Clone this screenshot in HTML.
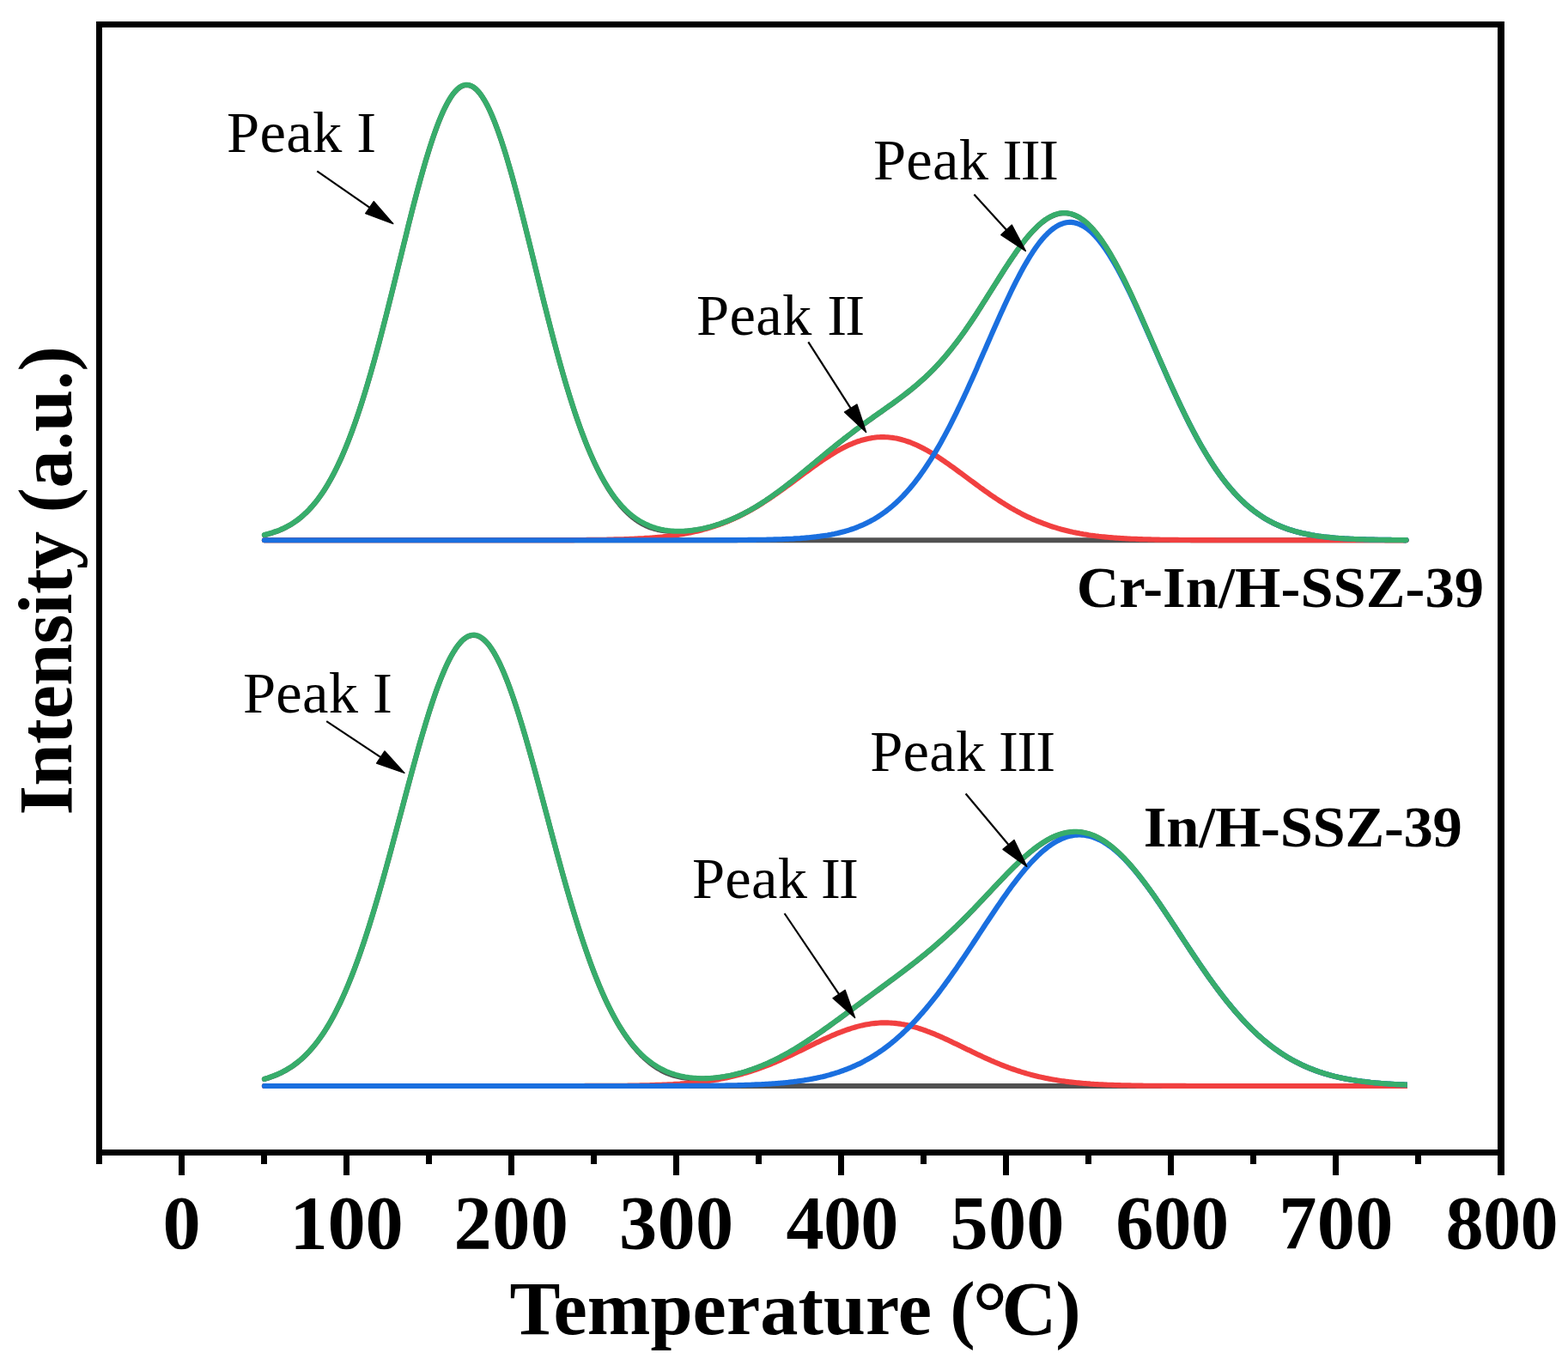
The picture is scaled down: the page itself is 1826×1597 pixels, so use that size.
<!DOCTYPE html>
<html lang="en"><head><meta charset="utf-8"><title>NH3-TPD profiles</title>
<style>
html,body{margin:0;padding:0;background:#fff;}
body{width:1826px;height:1597px;overflow:hidden;}
svg{display:block;}
text{font-family:"Liberation Serif","Times New Roman",serif;fill:#000;}
.crv{fill:none;stroke-width:6.1;stroke-linejoin:round;stroke-linecap:round;}
</style></head><body>
<svg width="1826" height="1597" viewBox="0 0 1826 1597">
<rect x="0" y="0" width="1826" height="1597" fill="#fff"/>

<defs><clipPath id="cb"><rect x="0" y="700" width="1638.8" height="620"/></clipPath></defs>
<g class="crv">
<path stroke="#515151" d="M307.9,629.2 L1637.5,629.2"/>
<path stroke="#515151" d="M307.9,623.2 L309.9,622.7 L311.9,622.2 L313.9,621.6 L315.9,621.0 L317.9,620.4 L319.9,619.7 L321.9,619.0 L323.9,618.3 L325.9,617.5 L327.9,616.6 L329.9,615.7 L331.9,614.7 L333.9,613.7 L335.9,612.6 L337.9,611.5 L339.9,610.3 L341.9,609.0 L343.9,607.6 L345.9,606.2 L347.9,604.7 L349.9,603.1 L351.9,601.4 L353.9,599.6 L355.9,597.8 L357.9,595.8 L359.9,593.8 L361.9,591.6 L363.9,589.4 L365.9,587.0 L367.9,584.6 L369.9,582.0 L371.9,579.3 L373.9,576.5 L375.9,573.6 L377.9,570.5 L379.9,567.3 L381.9,564.0 L383.9,560.5 L385.9,556.9 L387.9,553.2 L389.9,549.3 L391.9,545.3 L393.9,541.2 L395.9,536.9 L397.9,532.4 L399.9,527.8 L401.9,523.1 L403.9,518.2 L405.9,513.1 L407.9,507.9 L409.9,502.6 L411.9,497.0 L413.9,491.4 L415.9,485.6 L417.9,479.6 L419.9,473.5 L421.9,467.3 L423.9,460.9 L425.9,454.4 L427.9,447.7 L429.9,440.9 L431.9,434.0 L433.9,426.9 L435.9,419.8 L437.9,412.5 L439.9,405.1 L441.9,397.6 L443.9,390.0 L445.9,382.3 L447.9,374.5 L449.9,366.7 L451.9,358.8 L453.9,350.8 L455.9,342.8 L457.9,334.7 L459.9,326.6 L461.9,318.5 L463.9,310.3 L465.9,302.2 L467.9,294.1 L469.9,285.9 L471.9,277.9 L473.9,269.8 L475.8,261.8 L477.8,253.9 L479.8,246.0 L481.8,238.2 L483.8,230.6 L485.8,223.0 L487.8,215.6 L489.8,208.2 L491.8,201.1 L493.8,194.1 L495.8,187.2 L497.8,180.6 L499.8,174.1 L501.8,167.8 L503.8,161.8 L505.8,156.0 L507.8,150.4 L509.8,145.0 L511.8,139.9 L513.8,135.1 L515.8,130.5 L517.8,126.3 L519.8,122.3 L521.8,118.6 L523.8,115.2 L525.8,112.1 L527.8,109.3 L529.8,106.9 L531.8,104.8 L533.8,103.0 L535.8,101.5 L537.8,100.4 L539.8,99.6 L541.8,99.1 L543.8,99.0 L545.8,99.2 L547.8,99.8 L549.8,100.7 L551.8,101.9 L553.8,103.5 L555.8,105.4 L557.8,107.6 L559.8,110.2 L561.8,113.1 L563.8,116.3 L565.8,119.8 L567.8,123.5 L569.8,127.6 L571.8,132.0 L573.8,136.7 L575.8,141.6 L577.8,146.8 L579.8,152.2 L581.8,157.9 L583.8,163.8 L585.8,169.9 L587.8,176.2 L589.8,182.7 L591.8,189.5 L593.8,196.4 L595.8,203.4 L597.8,210.6 L599.8,218.0 L601.8,225.5 L603.8,233.1 L605.8,240.8 L607.8,248.6 L609.8,256.5 L611.8,264.4 L613.8,272.4 L615.8,280.5 L617.8,288.6 L619.8,296.7 L621.8,304.8 L623.8,313.0 L625.8,321.1 L627.8,329.2 L629.8,337.3 L631.8,345.4 L633.8,353.4 L635.8,361.3 L637.8,369.2 L639.8,377.0 L641.8,384.8 L643.8,392.4 L645.8,400.0 L647.8,407.5 L649.8,414.8 L651.8,422.1 L653.8,429.2 L655.8,436.2 L657.8,443.1 L659.8,449.8 L661.8,456.4 L663.8,462.9 L665.8,469.2 L667.8,475.4 L669.8,481.5 L671.8,487.4 L673.8,493.1 L675.8,498.7 L677.8,504.1 L679.8,509.4 L681.8,514.6 L683.8,519.6 L685.8,524.4 L687.8,529.1 L689.8,533.6 L691.8,538.0 L693.8,542.3 L695.8,546.4 L697.8,550.3 L699.8,554.2 L701.8,557.8 L703.8,561.4 L705.8,564.8 L707.8,568.1 L709.8,571.3 L711.8,574.3 L713.8,577.2 L715.8,580.0 L717.8,582.7 L719.8,585.2 L721.8,587.7 L723.8,590.0 L725.8,592.2 L727.8,594.4 L729.8,596.4 L731.8,598.3 L733.8,600.1 L735.8,601.8 L737.8,603.4 L739.8,604.9 L741.8,606.3 L743.8,607.7 L745.8,608.9 L747.8,610.0 L749.8,611.1 L751.8,612.1 L753.8,613.0 L755.8,613.8 L757.8,614.5 L759.8,615.2 L761.8,615.8 L763.8,616.4 L765.8,616.9 L767.8,617.3 L769.8,617.7 L771.8,618.0 L773.8,618.3 L775.8,618.5 L777.8,618.7 L779.8,618.9 L781.8,619.0 L783.8,619.1 L785.8,619.2 L787.8,619.2 L789.8,619.2 L791.8,619.2 L793.8,619.1 L795.8,619.0 L797.8,618.9 L799.8,618.7 L801.8,618.5 L803.8,618.3 L805.8,618.1 L807.7,617.8 L809.7,617.5 L811.7,617.2 L813.7,616.9 L815.7,616.5 L817.7,616.1 L819.7,615.6 L821.7,615.2 L823.7,614.7 L825.7,614.2 L827.7,613.7 L829.7,613.1 L831.7,612.5 L833.7,611.9 L835.7,611.2 L837.7,610.6 L839.7,609.9 L841.7,609.2 L843.7,608.4 L845.7,607.7 L847.7,606.9 L849.7,606.0 L851.7,605.2 L853.7,604.3 L855.7,603.4 L857.7,602.5 L859.7,601.6 L861.7,600.6 L863.7,599.6 L865.7,598.6 L867.7,597.5 L869.7,596.5 L871.7,595.4 L873.7,594.3 L875.7,593.1 L877.7,592.0 L879.7,590.8 L881.7,589.6 L883.7,588.3 L885.7,587.1 L887.7,585.8 L889.7,584.5 L891.7,583.2 L893.7,581.8 L895.7,580.5 L897.7,579.1 L899.7,577.7 L901.7,576.3 L903.7,574.8 L905.7,573.4 L907.7,571.9 L909.7,570.4 L911.7,568.9 L913.7,567.4 L915.7,565.8 L917.7,564.3 L919.7,562.7 L921.7,561.2 L923.7,559.6 L925.7,558.0 L927.7,556.4 L929.7,554.8 L931.7,553.1 L933.7,551.5 L935.7,549.9 L937.7,548.2 L939.7,546.6 L941.7,544.9 L943.7,543.3 L945.7,541.6 L947.7,540.0 L949.7,538.3 L951.7,536.6 L953.7,535.0 L955.7,533.3 L957.7,531.7 L959.7,530.0 L961.7,528.4 L963.7,526.7 L965.7,525.1 L967.7,523.5 L969.7,521.9 L971.7,520.2 L973.7,518.6 L975.7,517.0 L977.7,515.4 L979.7,513.9 L981.7,512.3 L983.7,510.7 L985.7,509.2 L987.7,507.6 L989.7,506.1 L991.7,504.6 L993.7,503.0 L995.7,501.5 L997.7,500.0 L999.7,498.6 L1001.7,497.1 L1003.7,495.6 L1005.7,494.1 L1007.7,492.7 L1009.7,491.3 L1011.7,489.8 L1013.7,488.4 L1015.7,487.0 L1017.7,485.5 L1019.7,484.1 L1021.7,482.7 L1023.7,481.3 L1025.7,479.9 L1027.7,478.5 L1029.7,477.1 L1031.7,475.6 L1033.7,474.2 L1035.7,472.8 L1037.7,471.4 L1039.7,470.0 L1041.7,468.5 L1043.7,467.1 L1045.7,465.6 L1047.7,464.1 L1049.7,462.6 L1051.7,461.1 L1053.7,459.6 L1055.7,458.0 L1057.7,456.5 L1059.7,454.9 L1061.7,453.3 L1063.7,451.6 L1065.7,450.0 L1067.7,448.3 L1069.7,446.6 L1071.7,444.8 L1073.7,443.0 L1075.7,441.2 L1077.7,439.4 L1079.7,437.5 L1081.7,435.6 L1083.7,433.6 L1085.7,431.6 L1087.7,429.6 L1089.7,427.5 L1091.7,425.3 L1093.7,423.2 L1095.7,421.0 L1097.7,418.7 L1099.7,416.4 L1101.7,414.1 L1103.7,411.7 L1105.7,409.2 L1107.7,406.8 L1109.7,404.2 L1111.7,401.7 L1113.7,399.1 L1115.7,396.4 L1117.7,393.7 L1119.7,391.0 L1121.7,388.2 L1123.7,385.4 L1125.7,382.5 L1127.7,379.6 L1129.7,376.7 L1131.7,373.7 L1133.7,370.7 L1135.7,367.7 L1137.7,364.7 L1139.6,361.6 L1141.6,358.5 L1143.6,355.4 L1145.6,352.2 L1147.6,349.1 L1149.6,345.9 L1151.6,342.7 L1153.6,339.5 L1155.6,336.4 L1157.6,333.2 L1159.6,330.0 L1161.6,326.8 L1163.6,323.6 L1165.6,320.5 L1167.6,317.3 L1169.6,314.2 L1171.6,311.1 L1173.6,308.1 L1175.6,305.0 L1177.6,302.1 L1179.6,299.1 L1181.6,296.2 L1183.6,293.3 L1185.6,290.5 L1187.6,287.8 L1189.6,285.1 L1191.6,282.5 L1193.6,279.9 L1195.6,277.4 L1197.6,275.0 L1199.6,272.7 L1201.6,270.5 L1203.6,268.3 L1205.6,266.3 L1207.6,264.3 L1209.6,262.4 L1211.6,260.7 L1213.6,259.0 L1215.6,257.5 L1217.6,256.0 L1219.6,254.7 L1221.6,253.5 L1223.6,252.4 L1225.6,251.5 L1227.6,250.6 L1229.6,249.9 L1231.6,249.3 L1233.6,248.8 L1235.6,248.5 L1237.6,248.3 L1239.6,248.3 L1241.6,248.3 L1243.6,248.6 L1245.6,248.9 L1247.6,249.4 L1249.6,250.0 L1251.6,250.8 L1253.6,251.7 L1255.6,252.7 L1257.6,253.9 L1259.6,255.2 L1261.6,256.6 L1263.6,258.2 L1265.6,259.9 L1267.6,261.8 L1269.6,263.8 L1271.6,265.9 L1273.6,268.1 L1275.6,270.5 L1277.6,273.0 L1279.6,275.6 L1281.6,278.3 L1283.6,281.1 L1285.6,284.1 L1287.6,287.1 L1289.6,290.3 L1291.6,293.6 L1293.6,296.9 L1295.6,300.4 L1297.6,304.0 L1299.6,307.6 L1301.6,311.3 L1303.6,315.2 L1305.6,319.1 L1307.6,323.0 L1309.6,327.1 L1311.6,331.2 L1313.6,335.4 L1315.6,339.6 L1317.6,343.9 L1319.6,348.2 L1321.6,352.6 L1323.6,357.0 L1325.6,361.5 L1327.6,366.0 L1329.6,370.5 L1331.6,375.1 L1333.6,379.7 L1335.6,384.3 L1337.6,388.9 L1339.6,393.5 L1341.6,398.1 L1343.6,402.7 L1345.6,407.4 L1347.6,412.0 L1349.6,416.6 L1351.6,421.2 L1353.6,425.8 L1355.6,430.3 L1357.6,434.9 L1359.6,439.4 L1361.6,443.9 L1363.6,448.3 L1365.6,452.8 L1367.6,457.1 L1369.6,461.5 L1371.6,465.8 L1373.6,470.1 L1375.6,474.3 L1377.6,478.4 L1379.6,482.5 L1381.6,486.6 L1383.6,490.6 L1385.6,494.6 L1387.6,498.4 L1389.6,502.3 L1391.6,506.0 L1393.6,509.8 L1395.6,513.4 L1397.6,517.0 L1399.6,520.5 L1401.6,523.9 L1403.6,527.3 L1405.6,530.6 L1407.6,533.9 L1409.6,537.1 L1411.6,540.2 L1413.6,543.2 L1415.6,546.2 L1417.6,549.1 L1419.6,551.9 L1421.6,554.7 L1423.6,557.4 L1425.6,560.0 L1427.6,562.6 L1429.6,565.1 L1431.6,567.5 L1433.6,569.8 L1435.6,572.1 L1437.6,574.4 L1439.6,576.5 L1441.6,578.6 L1443.6,580.6 L1445.6,582.6 L1447.6,584.5 L1449.6,586.4 L1451.6,588.2 L1453.6,589.9 L1455.6,591.6 L1457.6,593.2 L1459.6,594.8 L1461.6,596.3 L1463.6,597.7 L1465.6,599.1 L1467.6,600.5 L1469.6,601.8 L1471.5,603.1 L1473.5,604.3 L1475.5,605.4 L1477.5,606.6 L1479.5,607.6 L1481.5,608.7 L1483.5,609.7 L1485.5,610.6 L1487.5,611.6 L1489.5,612.4 L1491.5,613.3 L1493.5,614.1 L1495.5,614.8 L1497.5,615.6 L1499.5,616.3 L1501.5,617.0 L1503.5,617.6 L1505.5,618.2 L1507.5,618.8 L1509.5,619.4 L1511.5,619.9 L1513.5,620.4 L1515.5,620.9 L1517.5,621.4 L1519.5,621.8 L1521.5,622.2 L1523.5,622.6 L1525.5,623.0 L1527.5,623.4 L1529.5,623.7 L1531.5,624.1 L1533.5,624.4 L1535.5,624.7 L1537.5,624.9 L1539.5,625.2 L1541.5,625.5 L1543.5,625.7 L1545.5,625.9 L1547.5,626.1 L1549.5,626.3 L1551.5,626.5 L1553.5,626.7 L1555.5,626.9 L1557.5,627.0 L1559.5,627.2 L1561.5,627.3 L1563.5,627.4 L1565.5,627.6 L1567.5,627.7 L1569.5,627.8 L1571.5,627.9 L1573.5,628.0 L1575.5,628.1 L1577.5,628.2 L1579.5,628.3 L1581.5,628.3 L1583.5,628.4 L1585.5,628.5 L1587.5,628.5 L1589.5,628.6 L1591.5,628.7 L1593.5,628.7 L1595.5,628.8 L1597.5,628.8 L1599.5,628.8 L1601.5,628.9 L1603.5,628.9 L1605.5,629.0 L1607.5,629.0 L1609.5,629.0 L1611.5,629.0 L1613.5,629.1 L1615.5,629.1 L1617.5,629.1 L1619.5,629.1 L1621.5,629.2 L1623.5,629.2 L1625.5,629.2 L1627.5,629.2 L1629.5,629.2 L1631.5,629.2 L1633.5,629.2 L1635.5,629.3 L1637.5,629.3"/>
<path stroke="#F14040" d="M307.9,629.2 L309.9,629.2 L311.9,629.2 L313.9,629.2 L315.9,629.2 L317.9,629.2 L319.9,629.2 L321.9,629.2 L323.9,629.2 L325.9,629.2 L327.9,629.2 L329.9,629.2 L331.9,629.2 L333.9,629.2 L335.9,629.2 L337.9,629.2 L339.9,629.2 L341.9,629.2 L343.9,629.2 L345.9,629.2 L347.9,629.2 L349.9,629.2 L351.9,629.2 L353.9,629.2 L355.9,629.2 L357.9,629.2 L359.9,629.2 L361.9,629.2 L363.9,629.2 L365.9,629.2 L367.9,629.2 L369.9,629.2 L371.9,629.2 L373.9,629.2 L375.9,629.2 L377.9,629.2 L379.9,629.2 L381.9,629.2 L383.9,629.2 L385.9,629.2 L387.9,629.2 L389.9,629.2 L391.9,629.2 L393.9,629.2 L395.9,629.2 L397.9,629.2 L399.9,629.2 L401.9,629.2 L403.9,629.2 L405.9,629.2 L407.9,629.2 L409.9,629.2 L411.9,629.2 L413.9,629.2 L415.9,629.2 L417.9,629.2 L419.9,629.2 L421.9,629.2 L423.9,629.2 L425.9,629.2 L427.9,629.2 L429.9,629.2 L431.9,629.2 L433.9,629.2 L435.9,629.2 L437.9,629.2 L439.9,629.2 L441.9,629.2 L443.9,629.2 L445.9,629.2 L447.9,629.2 L449.9,629.2 L451.9,629.2 L453.9,629.2 L455.9,629.2 L457.9,629.2 L459.9,629.2 L461.9,629.2 L463.9,629.2 L465.9,629.2 L467.9,629.2 L469.9,629.2 L471.9,629.2 L473.9,629.2 L475.8,629.2 L477.8,629.2 L479.8,629.2 L481.8,629.2 L483.8,629.2 L485.8,629.2 L487.8,629.2 L489.8,629.2 L491.8,629.2 L493.8,629.2 L495.8,629.2 L497.8,629.2 L499.8,629.2 L501.8,629.2 L503.8,629.2 L505.8,629.2 L507.8,629.2 L509.8,629.2 L511.8,629.2 L513.8,629.2 L515.8,629.2 L517.8,629.2 L519.8,629.2 L521.8,629.2 L523.8,629.2 L525.8,629.2 L527.8,629.2 L529.8,629.2 L531.8,629.2 L533.8,629.2 L535.8,629.2 L537.8,629.2 L539.8,629.2 L541.8,629.2 L543.8,629.2 L545.8,629.2 L547.8,629.2 L549.8,629.2 L551.8,629.2 L553.8,629.2 L555.8,629.2 L557.8,629.2 L559.8,629.2 L561.8,629.2 L563.8,629.2 L565.8,629.2 L567.8,629.2 L569.8,629.2 L571.8,629.2 L573.8,629.2 L575.8,629.2 L577.8,629.2 L579.8,629.2 L581.8,629.2 L583.8,629.2 L585.8,629.2 L587.8,629.2 L589.8,629.2 L591.8,629.2 L593.8,629.2 L595.8,629.2 L597.8,629.2 L599.8,629.2 L601.8,629.2 L603.8,629.2 L605.8,629.2 L607.8,629.2 L609.8,629.2 L611.8,629.2 L613.8,629.2 L615.8,629.2 L617.8,629.2 L619.8,629.2 L621.8,629.2 L623.8,629.2 L625.8,629.2 L627.8,629.2 L629.8,629.2 L631.8,629.2 L633.8,629.2 L635.8,629.2 L637.8,629.2 L639.8,629.2 L641.8,629.1 L643.8,629.1 L645.8,629.1 L647.8,629.1 L649.8,629.1 L651.8,629.1 L653.8,629.1 L655.8,629.1 L657.8,629.1 L659.8,629.1 L661.8,629.1 L663.8,629.1 L665.8,629.1 L667.8,629.1 L669.8,629.0 L671.8,629.0 L673.8,629.0 L675.8,629.0 L677.8,629.0 L679.8,629.0 L681.8,629.0 L683.8,628.9 L685.8,628.9 L687.8,628.9 L689.8,628.9 L691.8,628.9 L693.8,628.8 L695.8,628.8 L697.8,628.8 L699.8,628.8 L701.8,628.7 L703.8,628.7 L705.8,628.7 L707.8,628.6 L709.8,628.6 L711.8,628.5 L713.8,628.5 L715.8,628.4 L717.8,628.4 L719.8,628.3 L721.8,628.3 L723.8,628.2 L725.8,628.2 L727.8,628.1 L729.8,628.0 L731.8,628.0 L733.8,627.9 L735.8,627.8 L737.8,627.7 L739.8,627.6 L741.8,627.5 L743.8,627.4 L745.8,627.3 L747.8,627.2 L749.8,627.1 L751.8,626.9 L753.8,626.8 L755.8,626.7 L757.8,626.5 L759.8,626.4 L761.8,626.2 L763.8,626.0 L765.8,625.9 L767.8,625.7 L769.8,625.5 L771.8,625.3 L773.8,625.0 L775.8,624.8 L777.8,624.6 L779.8,624.3 L781.8,624.1 L783.8,623.8 L785.8,623.5 L787.8,623.2 L789.8,622.9 L791.8,622.6 L793.8,622.3 L795.8,622.0 L797.8,621.6 L799.8,621.2 L801.8,620.8 L803.8,620.4 L805.8,620.0 L807.7,619.6 L809.7,619.1 L811.7,618.7 L813.7,618.2 L815.7,617.7 L817.7,617.2 L819.7,616.6 L821.7,616.1 L823.7,615.5 L825.7,614.9 L827.7,614.3 L829.7,613.7 L831.7,613.0 L833.7,612.4 L835.7,611.7 L837.7,611.0 L839.7,610.2 L841.7,609.5 L843.7,608.7 L845.7,607.9 L847.7,607.1 L849.7,606.2 L851.7,605.4 L853.7,604.5 L855.7,603.6 L857.7,602.6 L859.7,601.7 L861.7,600.7 L863.7,599.7 L865.7,598.7 L867.7,597.7 L869.7,596.6 L871.7,595.5 L873.7,594.4 L875.7,593.3 L877.7,592.1 L879.7,591.0 L881.7,589.8 L883.7,588.6 L885.7,587.3 L887.7,586.1 L889.7,584.8 L891.7,583.5 L893.7,582.2 L895.7,580.9 L897.7,579.6 L899.7,578.2 L901.7,576.8 L903.7,575.5 L905.7,574.1 L907.7,572.6 L909.7,571.2 L911.7,569.8 L913.7,568.4 L915.7,566.9 L917.7,565.4 L919.7,564.0 L921.7,562.5 L923.7,561.0 L925.7,559.5 L927.7,558.1 L929.7,556.6 L931.7,555.1 L933.7,553.6 L935.7,552.1 L937.7,550.6 L939.7,549.2 L941.7,547.7 L943.7,546.2 L945.7,544.8 L947.7,543.3 L949.7,541.9 L951.7,540.5 L953.7,539.1 L955.7,537.7 L957.7,536.3 L959.7,535.0 L961.7,533.7 L963.7,532.4 L965.7,531.1 L967.7,529.8 L969.7,528.6 L971.7,527.4 L973.7,526.2 L975.7,525.0 L977.7,523.9 L979.7,522.8 L981.7,521.8 L983.7,520.8 L985.7,519.8 L987.7,518.8 L989.7,517.9 L991.7,517.1 L993.7,516.2 L995.7,515.5 L997.7,514.7 L999.7,514.0 L1001.7,513.4 L1003.7,512.7 L1005.7,512.2 L1007.7,511.7 L1009.7,511.2 L1011.7,510.8 L1013.7,510.4 L1015.7,510.0 L1017.7,509.8 L1019.7,509.5 L1021.7,509.3 L1023.7,509.2 L1025.7,509.1 L1027.7,509.1 L1029.7,509.1 L1031.7,509.2 L1033.7,509.3 L1035.7,509.5 L1037.7,509.7 L1039.7,509.9 L1041.7,510.3 L1043.7,510.6 L1045.7,511.0 L1047.7,511.5 L1049.7,512.0 L1051.7,512.6 L1053.7,513.2 L1055.7,513.8 L1057.7,514.5 L1059.7,515.2 L1061.7,516.0 L1063.7,516.8 L1065.7,517.7 L1067.7,518.5 L1069.7,519.5 L1071.7,520.5 L1073.7,521.5 L1075.7,522.5 L1077.7,523.6 L1079.7,524.7 L1081.7,525.8 L1083.7,527.0 L1085.7,528.2 L1087.7,529.4 L1089.7,530.7 L1091.7,531.9 L1093.7,533.2 L1095.7,534.6 L1097.7,535.9 L1099.7,537.3 L1101.7,538.7 L1103.7,540.1 L1105.7,541.5 L1107.7,542.9 L1109.7,544.3 L1111.7,545.8 L1113.7,547.2 L1115.7,548.7 L1117.7,550.2 L1119.7,551.6 L1121.7,553.1 L1123.7,554.6 L1125.7,556.1 L1127.7,557.6 L1129.7,559.1 L1131.7,560.6 L1133.7,562.0 L1135.7,563.5 L1137.7,565.0 L1139.6,566.4 L1141.6,567.9 L1143.6,569.3 L1145.6,570.8 L1147.6,572.2 L1149.6,573.6 L1151.6,575.0 L1153.6,576.4 L1155.6,577.8 L1157.6,579.1 L1159.6,580.5 L1161.6,581.8 L1163.6,583.1 L1165.6,584.4 L1167.6,585.7 L1169.6,586.9 L1171.6,588.2 L1173.6,589.4 L1175.6,590.6 L1177.6,591.8 L1179.6,592.9 L1181.6,594.1 L1183.6,595.2 L1185.6,596.3 L1187.6,597.3 L1189.6,598.4 L1191.6,599.4 L1193.6,600.4 L1195.6,601.4 L1197.6,602.4 L1199.6,603.3 L1201.6,604.2 L1203.6,605.1 L1205.6,606.0 L1207.6,606.8 L1209.6,607.6 L1211.6,608.4 L1213.6,609.2 L1215.6,610.0 L1217.6,610.7 L1219.6,611.4 L1221.6,612.1 L1223.6,612.8 L1225.6,613.5 L1227.6,614.1 L1229.6,614.7 L1231.6,615.3 L1233.6,615.9 L1235.6,616.5 L1237.6,617.0 L1239.6,617.5 L1241.6,618.0 L1243.6,618.5 L1245.6,619.0 L1247.6,619.4 L1249.6,619.9 L1251.6,620.3 L1253.6,620.7 L1255.6,621.1 L1257.6,621.5 L1259.6,621.8 L1261.6,622.2 L1263.6,622.5 L1265.6,622.8 L1267.6,623.2 L1269.6,623.5 L1271.6,623.7 L1273.6,624.0 L1275.6,624.3 L1277.6,624.5 L1279.6,624.8 L1281.6,625.0 L1283.6,625.2 L1285.6,625.4 L1287.6,625.6 L1289.6,625.8 L1291.6,626.0 L1293.6,626.1 L1295.6,626.3 L1297.6,626.5 L1299.6,626.6 L1301.6,626.8 L1303.6,626.9 L1305.6,627.0 L1307.6,627.1 L1309.6,627.3 L1311.6,627.4 L1313.6,627.5 L1315.6,627.6 L1317.6,627.7 L1319.6,627.8 L1321.6,627.8 L1323.6,627.9 L1325.6,628.0 L1327.6,628.1 L1329.6,628.1 L1331.6,628.2 L1333.6,628.3 L1335.6,628.3 L1337.6,628.4 L1339.6,628.4 L1341.6,628.5 L1343.6,628.5 L1345.6,628.6 L1347.6,628.6 L1349.6,628.6 L1351.6,628.7 L1353.6,628.7 L1355.6,628.7 L1357.6,628.8 L1359.6,628.8 L1361.6,628.8 L1363.6,628.9 L1365.6,628.9 L1367.6,628.9 L1369.6,628.9 L1371.6,628.9 L1373.6,629.0 L1375.6,629.0 L1377.6,629.0 L1379.6,629.0 L1381.6,629.0 L1383.6,629.0 L1385.6,629.0 L1387.6,629.1 L1389.6,629.1 L1391.6,629.1 L1393.6,629.1 L1395.6,629.1 L1397.6,629.1 L1399.6,629.1 L1401.6,629.1 L1403.6,629.1 L1405.6,629.1 L1407.6,629.1 L1409.6,629.1 L1411.6,629.1 L1413.6,629.1 L1415.6,629.2 L1417.6,629.2 L1419.6,629.2 L1421.6,629.2 L1423.6,629.2 L1425.6,629.2 L1427.6,629.2 L1429.6,629.2 L1431.6,629.2 L1433.6,629.2 L1435.6,629.2 L1437.6,629.2 L1439.6,629.2 L1441.6,629.2 L1443.6,629.2 L1445.6,629.2 L1447.6,629.2 L1449.6,629.2 L1451.6,629.2 L1453.6,629.2 L1455.6,629.2 L1457.6,629.2 L1459.6,629.2 L1461.6,629.2 L1463.6,629.2 L1465.6,629.2 L1467.6,629.2 L1469.6,629.2 L1471.5,629.2 L1473.5,629.2 L1475.5,629.2 L1477.5,629.2 L1479.5,629.2 L1481.5,629.2 L1483.5,629.2 L1485.5,629.2 L1487.5,629.2 L1489.5,629.2 L1491.5,629.2 L1493.5,629.2 L1495.5,629.2 L1497.5,629.2 L1499.5,629.2 L1501.5,629.2 L1503.5,629.2 L1505.5,629.2 L1507.5,629.2 L1509.5,629.2 L1511.5,629.2 L1513.5,629.2 L1515.5,629.2 L1517.5,629.2 L1519.5,629.2 L1521.5,629.2 L1523.5,629.2 L1525.5,629.2 L1527.5,629.2 L1529.5,629.2 L1531.5,629.2 L1533.5,629.2 L1535.5,629.2 L1537.5,629.2 L1539.5,629.2 L1541.5,629.2 L1543.5,629.2 L1545.5,629.2 L1547.5,629.2 L1549.5,629.2 L1551.5,629.2 L1553.5,629.2 L1555.5,629.2 L1557.5,629.2 L1559.5,629.2 L1561.5,629.2 L1563.5,629.2 L1565.5,629.2 L1567.5,629.2 L1569.5,629.2 L1571.5,629.2 L1573.5,629.2 L1575.5,629.2 L1577.5,629.2 L1579.5,629.2 L1581.5,629.2 L1583.5,629.2 L1585.5,629.2 L1587.5,629.2 L1589.5,629.2 L1591.5,629.2 L1593.5,629.2 L1595.5,629.2 L1597.5,629.2 L1599.5,629.2 L1601.5,629.2 L1603.5,629.2 L1605.5,629.2 L1607.5,629.2 L1609.5,629.2 L1611.5,629.2 L1613.5,629.2 L1615.5,629.2 L1617.5,629.2 L1619.5,629.2 L1621.5,629.2 L1623.5,629.2 L1625.5,629.2 L1627.5,629.2 L1629.5,629.2 L1631.5,629.2 L1633.5,629.2 L1635.5,629.2 L1637.5,629.2"/>
<path stroke="#1A6FDF" d="M307.9,629.2 L309.9,629.2 L311.9,629.2 L313.9,629.2 L315.9,629.2 L317.9,629.2 L319.9,629.2 L321.9,629.2 L323.9,629.2 L325.9,629.2 L327.9,629.2 L329.9,629.2 L331.9,629.2 L333.9,629.2 L335.9,629.2 L337.9,629.2 L339.9,629.2 L341.9,629.2 L343.9,629.2 L345.9,629.2 L347.9,629.2 L349.9,629.2 L351.9,629.2 L353.9,629.2 L355.9,629.2 L357.9,629.2 L359.9,629.2 L361.9,629.2 L363.9,629.2 L365.9,629.2 L367.9,629.2 L369.9,629.2 L371.9,629.2 L373.9,629.2 L375.9,629.2 L377.9,629.2 L379.9,629.2 L381.9,629.2 L383.9,629.2 L385.9,629.2 L387.9,629.2 L389.9,629.2 L391.9,629.2 L393.9,629.2 L395.9,629.2 L397.9,629.2 L399.9,629.2 L401.9,629.2 L403.9,629.2 L405.9,629.2 L407.9,629.2 L409.9,629.2 L411.9,629.2 L413.9,629.2 L415.9,629.2 L417.9,629.2 L419.9,629.2 L421.9,629.2 L423.9,629.2 L425.9,629.2 L427.9,629.2 L429.9,629.2 L431.9,629.2 L433.9,629.2 L435.9,629.2 L437.9,629.2 L439.9,629.2 L441.9,629.2 L443.9,629.2 L445.9,629.2 L447.9,629.2 L449.9,629.2 L451.9,629.2 L453.9,629.2 L455.9,629.2 L457.9,629.2 L459.9,629.2 L461.9,629.2 L463.9,629.2 L465.9,629.2 L467.9,629.2 L469.9,629.2 L471.9,629.2 L473.9,629.2 L475.8,629.2 L477.8,629.2 L479.8,629.2 L481.8,629.2 L483.8,629.2 L485.8,629.2 L487.8,629.2 L489.8,629.2 L491.8,629.2 L493.8,629.2 L495.8,629.2 L497.8,629.2 L499.8,629.2 L501.8,629.2 L503.8,629.2 L505.8,629.2 L507.8,629.2 L509.8,629.2 L511.8,629.2 L513.8,629.2 L515.8,629.2 L517.8,629.2 L519.8,629.2 L521.8,629.2 L523.8,629.2 L525.8,629.2 L527.8,629.2 L529.8,629.2 L531.8,629.2 L533.8,629.2 L535.8,629.2 L537.8,629.2 L539.8,629.2 L541.8,629.2 L543.8,629.2 L545.8,629.2 L547.8,629.2 L549.8,629.2 L551.8,629.2 L553.8,629.2 L555.8,629.2 L557.8,629.2 L559.8,629.2 L561.8,629.2 L563.8,629.2 L565.8,629.2 L567.8,629.2 L569.8,629.2 L571.8,629.2 L573.8,629.2 L575.8,629.2 L577.8,629.2 L579.8,629.2 L581.8,629.2 L583.8,629.2 L585.8,629.2 L587.8,629.2 L589.8,629.2 L591.8,629.2 L593.8,629.2 L595.8,629.2 L597.8,629.2 L599.8,629.2 L601.8,629.2 L603.8,629.2 L605.8,629.2 L607.8,629.2 L609.8,629.2 L611.8,629.2 L613.8,629.2 L615.8,629.2 L617.8,629.2 L619.8,629.2 L621.8,629.2 L623.8,629.2 L625.8,629.2 L627.8,629.2 L629.8,629.2 L631.8,629.2 L633.8,629.2 L635.8,629.2 L637.8,629.2 L639.8,629.2 L641.8,629.2 L643.8,629.2 L645.8,629.2 L647.8,629.2 L649.8,629.2 L651.8,629.2 L653.8,629.2 L655.8,629.2 L657.8,629.2 L659.8,629.2 L661.8,629.2 L663.8,629.2 L665.8,629.2 L667.8,629.2 L669.8,629.2 L671.8,629.2 L673.8,629.2 L675.8,629.2 L677.8,629.2 L679.8,629.2 L681.8,629.2 L683.8,629.2 L685.8,629.2 L687.8,629.2 L689.8,629.2 L691.8,629.2 L693.8,629.2 L695.8,629.2 L697.8,629.2 L699.8,629.2 L701.8,629.2 L703.8,629.2 L705.8,629.2 L707.8,629.2 L709.8,629.2 L711.8,629.2 L713.8,629.2 L715.8,629.2 L717.8,629.2 L719.8,629.2 L721.8,629.2 L723.8,629.2 L725.8,629.2 L727.8,629.2 L729.8,629.2 L731.8,629.2 L733.8,629.2 L735.8,629.2 L737.8,629.2 L739.8,629.2 L741.8,629.2 L743.8,629.2 L745.8,629.2 L747.8,629.2 L749.8,629.2 L751.8,629.2 L753.8,629.2 L755.8,629.2 L757.8,629.2 L759.8,629.2 L761.8,629.2 L763.8,629.2 L765.8,629.2 L767.8,629.2 L769.8,629.2 L771.8,629.2 L773.8,629.2 L775.8,629.2 L777.8,629.2 L779.8,629.2 L781.8,629.2 L783.8,629.2 L785.8,629.2 L787.8,629.2 L789.8,629.2 L791.8,629.2 L793.8,629.2 L795.8,629.2 L797.8,629.2 L799.8,629.2 L801.8,629.2 L803.8,629.2 L805.8,629.2 L807.7,629.2 L809.7,629.2 L811.7,629.2 L813.7,629.2 L815.7,629.2 L817.7,629.2 L819.7,629.2 L821.7,629.2 L823.7,629.2 L825.7,629.2 L827.7,629.2 L829.7,629.2 L831.7,629.2 L833.7,629.1 L835.7,629.1 L837.7,629.1 L839.7,629.1 L841.7,629.1 L843.7,629.1 L845.7,629.1 L847.7,629.1 L849.7,629.1 L851.7,629.1 L853.7,629.1 L855.7,629.1 L857.7,629.1 L859.7,629.0 L861.7,629.0 L863.7,629.0 L865.7,629.0 L867.7,629.0 L869.7,629.0 L871.7,628.9 L873.7,628.9 L875.7,628.9 L877.7,628.9 L879.7,628.9 L881.7,628.8 L883.7,628.8 L885.7,628.8 L887.7,628.7 L889.7,628.7 L891.7,628.7 L893.7,628.6 L895.7,628.6 L897.7,628.5 L899.7,628.5 L901.7,628.4 L903.7,628.4 L905.7,628.3 L907.7,628.2 L909.7,628.2 L911.7,628.1 L913.7,628.0 L915.7,627.9 L917.7,627.9 L919.7,627.8 L921.7,627.7 L923.7,627.6 L925.7,627.4 L927.7,627.3 L929.7,627.2 L931.7,627.1 L933.7,626.9 L935.7,626.8 L937.7,626.6 L939.7,626.4 L941.7,626.2 L943.7,626.0 L945.7,625.8 L947.7,625.6 L949.7,625.4 L951.7,625.1 L953.7,624.9 L955.7,624.6 L957.7,624.3 L959.7,624.0 L961.7,623.7 L963.7,623.4 L965.7,623.0 L967.7,622.7 L969.7,622.3 L971.7,621.9 L973.7,621.4 L975.7,621.0 L977.7,620.5 L979.7,620.0 L981.7,619.5 L983.7,619.0 L985.7,618.4 L987.7,617.8 L989.7,617.2 L991.7,616.5 L993.7,615.8 L995.7,615.1 L997.7,614.3 L999.7,613.5 L1001.7,612.7 L1003.7,611.9 L1005.7,611.0 L1007.7,610.0 L1009.7,609.1 L1011.7,608.1 L1013.7,607.0 L1015.7,605.9 L1017.7,604.8 L1019.7,603.6 L1021.7,602.4 L1023.7,601.1 L1025.7,599.7 L1027.7,598.4 L1029.7,596.9 L1031.7,595.5 L1033.7,593.9 L1035.7,592.3 L1037.7,590.7 L1039.7,589.0 L1041.7,587.2 L1043.7,585.4 L1045.7,583.6 L1047.7,581.6 L1049.7,579.6 L1051.7,577.6 L1053.7,575.4 L1055.7,573.2 L1057.7,571.0 L1059.7,568.7 L1061.7,566.3 L1063.7,563.8 L1065.7,561.3 L1067.7,558.7 L1069.7,556.1 L1071.7,553.4 L1073.7,550.6 L1075.7,547.7 L1077.7,544.8 L1079.7,541.8 L1081.7,538.7 L1083.7,535.6 L1085.7,532.4 L1087.7,529.1 L1089.7,525.8 L1091.7,522.4 L1093.7,518.9 L1095.7,515.4 L1097.7,511.8 L1099.7,508.1 L1101.7,504.4 L1103.7,500.6 L1105.7,496.8 L1107.7,492.9 L1109.7,488.9 L1111.7,484.9 L1113.7,480.8 L1115.7,476.7 L1117.7,472.5 L1119.7,468.3 L1121.7,464.1 L1123.7,459.8 L1125.7,455.4 L1127.7,451.0 L1129.7,446.6 L1131.7,442.2 L1133.7,437.7 L1135.7,433.2 L1137.7,428.7 L1139.6,424.1 L1141.6,419.6 L1143.6,415.0 L1145.6,410.4 L1147.6,405.9 L1149.6,401.3 L1151.6,396.7 L1153.6,392.1 L1155.6,387.6 L1157.6,383.0 L1159.6,378.5 L1161.6,374.0 L1163.6,369.5 L1165.6,365.1 L1167.6,360.7 L1169.6,356.3 L1171.6,352.0 L1173.6,347.7 L1175.6,343.5 L1177.6,339.3 L1179.6,335.2 L1181.6,331.1 L1183.6,327.2 L1185.6,323.3 L1187.6,319.5 L1189.6,315.7 L1191.6,312.1 L1193.6,308.5 L1195.6,305.1 L1197.6,301.7 L1199.6,298.4 L1201.6,295.3 L1203.6,292.2 L1205.6,289.3 L1207.6,286.5 L1209.6,283.8 L1211.6,281.2 L1213.6,278.8 L1215.6,276.5 L1217.6,274.3 L1219.6,272.3 L1221.6,270.4 L1223.6,268.6 L1225.6,267.0 L1227.6,265.5 L1229.6,264.2 L1231.6,263.0 L1233.6,261.9 L1235.6,261.1 L1237.6,260.3 L1239.6,259.7 L1241.6,259.3 L1243.6,259.0 L1245.6,258.9 L1247.6,258.9 L1249.6,259.1 L1251.6,259.5 L1253.6,260.0 L1255.6,260.6 L1257.6,261.4 L1259.6,262.4 L1261.6,263.5 L1263.6,264.7 L1265.6,266.1 L1267.6,267.6 L1269.6,269.3 L1271.6,271.1 L1273.6,273.1 L1275.6,275.2 L1277.6,277.4 L1279.6,279.8 L1281.6,282.3 L1283.6,284.9 L1285.6,287.7 L1287.6,290.5 L1289.6,293.5 L1291.6,296.6 L1293.6,299.8 L1295.6,303.1 L1297.6,306.5 L1299.6,310.0 L1301.6,313.6 L1303.6,317.3 L1305.6,321.0 L1307.6,324.9 L1309.6,328.8 L1311.6,332.8 L1313.6,336.9 L1315.6,341.0 L1317.6,345.2 L1319.6,349.5 L1321.6,353.8 L1323.6,358.1 L1325.6,362.5 L1327.6,366.9 L1329.6,371.4 L1331.6,375.9 L1333.6,380.4 L1335.6,384.9 L1337.6,389.5 L1339.6,394.0 L1341.6,398.6 L1343.6,403.2 L1345.6,407.8 L1347.6,412.4 L1349.6,416.9 L1351.6,421.5 L1353.6,426.0 L1355.6,430.6 L1357.6,435.1 L1359.6,439.6 L1361.6,444.0 L1363.6,448.5 L1365.6,452.9 L1367.6,457.2 L1369.6,461.6 L1371.6,465.8 L1373.6,470.1 L1375.6,474.3 L1377.6,478.4 L1379.6,482.5 L1381.6,486.6 L1383.6,490.6 L1385.6,494.5 L1387.6,498.4 L1389.6,502.2 L1391.6,506.0 L1393.6,509.7 L1395.6,513.3 L1397.6,516.9 L1399.6,520.4 L1401.6,523.8 L1403.6,527.2 L1405.6,530.5 L1407.6,533.7 L1409.6,536.9 L1411.6,540.0 L1413.6,543.1 L1415.6,546.0 L1417.6,548.9 L1419.6,551.8 L1421.6,554.5 L1423.6,557.2 L1425.6,559.8 L1427.6,562.4 L1429.6,564.9 L1431.6,567.3 L1433.6,569.7 L1435.6,571.9 L1437.6,574.2 L1439.6,576.3 L1441.6,578.4 L1443.6,580.5 L1445.6,582.4 L1447.6,584.3 L1449.6,586.2 L1451.6,588.0 L1453.6,589.7 L1455.6,591.4 L1457.6,593.0 L1459.6,594.6 L1461.6,596.1 L1463.6,597.5 L1465.6,599.0 L1467.6,600.3 L1469.6,601.6 L1471.5,602.9 L1473.5,604.1 L1475.5,605.3 L1477.5,606.4 L1479.5,607.5 L1481.5,608.5 L1483.5,609.5 L1485.5,610.4 L1487.5,611.4 L1489.5,612.2 L1491.5,613.1 L1493.5,613.9 L1495.5,614.7 L1497.5,615.4 L1499.5,616.1 L1501.5,616.8 L1503.5,617.4 L1505.5,618.0 L1507.5,618.6 L1509.5,619.2 L1511.5,619.7 L1513.5,620.2 L1515.5,620.7 L1517.5,621.2 L1519.5,621.6 L1521.5,622.0 L1523.5,622.4 L1525.5,622.8 L1527.5,623.2 L1529.5,623.5 L1531.5,623.9 L1533.5,624.2 L1535.5,624.5 L1537.5,624.7 L1539.5,625.0 L1541.5,625.3 L1543.5,625.5 L1545.5,625.7 L1547.5,625.9 L1549.5,626.1 L1551.5,626.3 L1553.5,626.5 L1555.5,626.7 L1557.5,626.8 L1559.5,627.0 L1561.5,627.1 L1563.5,627.2 L1565.5,627.4 L1567.5,627.5 L1569.5,627.6 L1571.5,627.7 L1573.5,627.8 L1575.5,627.9 L1577.5,628.0 L1579.5,628.1 L1581.5,628.1 L1583.5,628.2 L1585.5,628.3 L1587.5,628.3 L1589.5,628.4 L1591.5,628.5 L1593.5,628.5 L1595.5,628.6 L1597.5,628.6 L1599.5,628.6 L1601.5,628.7 L1603.5,628.7 L1605.5,628.8 L1607.5,628.8 L1609.5,628.8 L1611.5,628.8 L1613.5,628.9 L1615.5,628.9 L1617.5,628.9 L1619.5,628.9 L1621.5,629.0 L1623.5,629.0 L1625.5,629.0 L1627.5,629.0 L1629.5,629.0 L1631.5,629.0 L1633.5,629.0 L1635.5,629.1 L1637.5,629.1"/>
<path stroke="#37AD6B" d="M307.9,623.0 L309.9,622.5 L311.9,622.0 L313.9,621.4 L315.9,620.8 L317.9,620.2 L319.9,619.5 L321.9,618.8 L323.9,618.1 L325.9,617.3 L327.9,616.4 L329.9,615.5 L331.9,614.5 L333.9,613.5 L335.9,612.4 L337.9,611.3 L339.9,610.1 L341.9,608.8 L343.9,607.4 L345.9,606.0 L347.9,604.5 L349.9,602.9 L351.9,601.2 L353.9,599.4 L355.9,597.6 L357.9,595.6 L359.9,593.6 L361.9,591.4 L363.9,589.2 L365.9,586.8 L367.9,584.4 L369.9,581.8 L371.9,579.1 L373.9,576.3 L375.9,573.4 L377.9,570.3 L379.9,567.1 L381.9,563.8 L383.9,560.3 L385.9,556.7 L387.9,553.0 L389.9,549.1 L391.9,545.1 L393.9,541.0 L395.9,536.7 L397.9,532.2 L399.9,527.6 L401.9,522.9 L403.9,518.0 L405.9,512.9 L407.9,507.7 L409.9,502.4 L411.9,496.8 L413.9,491.2 L415.9,485.4 L417.9,479.4 L419.9,473.3 L421.9,467.1 L423.9,460.7 L425.9,454.2 L427.9,447.5 L429.9,440.7 L431.9,433.8 L433.9,426.7 L435.9,419.6 L437.9,412.3 L439.9,404.9 L441.9,397.4 L443.9,389.8 L445.9,382.1 L447.9,374.3 L449.9,366.5 L451.9,358.6 L453.9,350.6 L455.9,342.6 L457.9,334.5 L459.9,326.4 L461.9,318.3 L463.9,310.1 L465.9,302.0 L467.9,293.9 L469.9,285.7 L471.9,277.7 L473.9,269.6 L475.8,261.6 L477.8,253.7 L479.8,245.8 L481.8,238.0 L483.8,230.4 L485.8,222.8 L487.8,215.4 L489.8,208.0 L491.8,200.9 L493.8,193.9 L495.8,187.0 L497.8,180.4 L499.8,173.9 L501.8,167.6 L503.8,161.6 L505.8,155.8 L507.8,150.2 L509.8,144.8 L511.8,139.7 L513.8,134.9 L515.8,130.3 L517.8,126.1 L519.8,122.1 L521.8,118.4 L523.8,115.0 L525.8,111.9 L527.8,109.1 L529.8,106.7 L531.8,104.6 L533.8,102.8 L535.8,101.3 L537.8,100.2 L539.8,99.4 L541.8,98.9 L543.8,98.8 L545.8,99.0 L547.8,99.6 L549.8,100.5 L551.8,101.7 L553.8,103.3 L555.8,105.2 L557.8,107.4 L559.8,110.0 L561.8,112.9 L563.8,116.1 L565.8,119.6 L567.8,123.3 L569.8,127.4 L571.8,131.8 L573.8,136.5 L575.8,141.4 L577.8,146.6 L579.8,152.0 L581.8,157.7 L583.8,163.6 L585.8,169.7 L587.8,176.0 L589.8,182.5 L591.8,189.3 L593.8,196.2 L595.8,203.2 L597.8,210.4 L599.8,217.8 L601.8,225.3 L603.8,232.9 L605.8,240.6 L607.8,248.4 L609.8,256.3 L611.8,264.2 L613.8,272.2 L615.8,280.3 L617.8,288.4 L619.8,296.5 L621.8,304.6 L623.8,312.8 L625.8,320.9 L627.8,329.0 L629.8,337.1 L631.8,345.2 L633.8,353.2 L635.8,361.1 L637.8,369.0 L639.8,376.8 L641.8,384.6 L643.8,392.2 L645.8,399.8 L647.8,407.3 L649.8,414.6 L651.8,421.9 L653.8,429.0 L655.8,436.0 L657.8,442.9 L659.8,449.6 L661.8,456.2 L663.8,462.7 L665.8,469.0 L667.8,475.2 L669.8,481.3 L671.8,487.1 L673.8,492.9 L675.8,498.5 L677.8,503.9 L679.8,509.2 L681.8,514.4 L683.8,519.3 L685.8,524.2 L687.8,528.9 L689.8,533.4 L691.8,537.8 L693.8,542.0 L695.8,546.1 L697.8,550.0 L699.8,553.8 L701.8,557.5 L703.8,561.0 L705.8,564.3 L707.8,567.6 L709.8,570.7 L711.8,573.7 L713.8,576.5 L715.8,579.3 L717.8,581.9 L719.8,584.3 L721.8,586.7 L723.8,589.0 L725.8,591.1 L727.8,593.2 L729.8,595.1 L731.8,597.0 L733.8,598.7 L735.8,600.4 L737.8,601.9 L739.8,603.4 L741.8,604.8 L743.8,606.1 L745.8,607.3 L747.8,608.4 L749.8,609.5 L751.8,610.5 L753.8,611.4 L755.8,612.3 L757.8,613.1 L759.8,613.9 L761.8,614.5 L763.8,615.2 L765.8,615.7 L767.8,616.2 L769.8,616.7 L771.8,617.1 L773.8,617.5 L775.8,617.8 L777.8,618.1 L779.8,618.3 L781.8,618.5 L783.8,618.6 L785.8,618.7 L787.8,618.8 L789.8,618.8 L791.8,618.8 L793.8,618.8 L795.8,618.7 L797.8,618.6 L799.8,618.5 L801.8,618.3 L803.8,618.1 L805.8,617.9 L807.7,617.6 L809.7,617.3 L811.7,617.0 L813.7,616.6 L815.7,616.3 L817.7,615.9 L819.7,615.4 L821.7,615.0 L823.7,614.5 L825.7,614.0 L827.7,613.5 L829.7,612.9 L831.7,612.3 L833.7,611.7 L835.7,611.0 L837.7,610.4 L839.7,609.7 L841.7,609.0 L843.7,608.2 L845.7,607.5 L847.7,606.7 L849.7,605.8 L851.7,605.0 L853.7,604.1 L855.7,603.2 L857.7,602.3 L859.7,601.4 L861.7,600.4 L863.7,599.4 L865.7,598.4 L867.7,597.3 L869.7,596.3 L871.7,595.2 L873.7,594.1 L875.7,592.9 L877.7,591.8 L879.7,590.6 L881.7,589.4 L883.7,588.1 L885.7,586.9 L887.7,585.6 L889.7,584.3 L891.7,583.0 L893.7,581.6 L895.7,580.3 L897.7,578.9 L899.7,577.5 L901.7,576.1 L903.7,574.6 L905.7,573.2 L907.7,571.7 L909.7,570.2 L911.7,568.7 L913.7,567.2 L915.7,565.6 L917.7,564.1 L919.7,562.5 L921.7,561.0 L923.7,559.4 L925.7,557.8 L927.7,556.2 L929.7,554.6 L931.7,552.9 L933.7,551.3 L935.7,549.7 L937.7,548.0 L939.7,546.4 L941.7,544.7 L943.7,543.1 L945.7,541.4 L947.7,539.8 L949.7,538.1 L951.7,536.4 L953.7,534.8 L955.7,533.1 L957.7,531.5 L959.7,529.8 L961.7,528.2 L963.7,526.5 L965.7,524.9 L967.7,523.3 L969.7,521.7 L971.7,520.0 L973.7,518.4 L975.7,516.8 L977.7,515.2 L979.7,513.7 L981.7,512.1 L983.7,510.5 L985.7,509.0 L987.7,507.4 L989.7,505.9 L991.7,504.4 L993.7,502.8 L995.7,501.3 L997.7,499.8 L999.7,498.4 L1001.7,496.9 L1003.7,495.4 L1005.7,493.9 L1007.7,492.5 L1009.7,491.1 L1011.7,489.6 L1013.7,488.2 L1015.7,486.8 L1017.7,485.3 L1019.7,483.9 L1021.7,482.5 L1023.7,481.1 L1025.7,479.7 L1027.7,478.3 L1029.7,476.9 L1031.7,475.4 L1033.7,474.0 L1035.7,472.6 L1037.7,471.2 L1039.7,469.8 L1041.7,468.3 L1043.7,466.9 L1045.7,465.4 L1047.7,463.9 L1049.7,462.4 L1051.7,460.9 L1053.7,459.4 L1055.7,457.8 L1057.7,456.3 L1059.7,454.7 L1061.7,453.1 L1063.7,451.4 L1065.7,449.8 L1067.7,448.1 L1069.7,446.4 L1071.7,444.6 L1073.7,442.8 L1075.7,441.0 L1077.7,439.2 L1079.7,437.3 L1081.7,435.4 L1083.7,433.4 L1085.7,431.4 L1087.7,429.4 L1089.7,427.3 L1091.7,425.1 L1093.7,423.0 L1095.7,420.8 L1097.7,418.5 L1099.7,416.2 L1101.7,413.9 L1103.7,411.5 L1105.7,409.0 L1107.7,406.6 L1109.7,404.0 L1111.7,401.5 L1113.7,398.9 L1115.7,396.2 L1117.7,393.5 L1119.7,390.8 L1121.7,388.0 L1123.7,385.2 L1125.7,382.3 L1127.7,379.4 L1129.7,376.5 L1131.7,373.5 L1133.7,370.5 L1135.7,367.5 L1137.7,364.5 L1139.6,361.4 L1141.6,358.3 L1143.6,355.2 L1145.6,352.0 L1147.6,348.9 L1149.6,345.7 L1151.6,342.5 L1153.6,339.3 L1155.6,336.2 L1157.6,333.0 L1159.6,329.8 L1161.6,326.6 L1163.6,323.4 L1165.6,320.3 L1167.6,317.1 L1169.6,314.0 L1171.6,310.9 L1173.6,307.9 L1175.6,304.8 L1177.6,301.9 L1179.6,298.9 L1181.6,296.0 L1183.6,293.1 L1185.6,290.3 L1187.6,287.6 L1189.6,284.9 L1191.6,282.3 L1193.6,279.7 L1195.6,277.2 L1197.6,274.8 L1199.6,272.5 L1201.6,270.3 L1203.6,268.1 L1205.6,266.1 L1207.6,264.1 L1209.6,262.2 L1211.6,260.5 L1213.6,258.8 L1215.6,257.3 L1217.6,255.8 L1219.6,254.5 L1221.6,253.3 L1223.6,252.2 L1225.6,251.3 L1227.6,250.4 L1229.6,249.7 L1231.6,249.1 L1233.6,248.6 L1235.6,248.3 L1237.6,248.1 L1239.6,248.1 L1241.6,248.1 L1243.6,248.4 L1245.6,248.7 L1247.6,249.2 L1249.6,249.8 L1251.6,250.6 L1253.6,251.5 L1255.6,252.5 L1257.6,253.7 L1259.6,255.0 L1261.6,256.4 L1263.6,258.0 L1265.6,259.7 L1267.6,261.6 L1269.6,263.6 L1271.6,265.7 L1273.6,267.9 L1275.6,270.3 L1277.6,272.8 L1279.6,275.4 L1281.6,278.1 L1283.6,280.9 L1285.6,283.9 L1287.6,286.9 L1289.6,290.1 L1291.6,293.4 L1293.6,296.7 L1295.6,300.2 L1297.6,303.8 L1299.6,307.4 L1301.6,311.1 L1303.6,315.0 L1305.6,318.9 L1307.6,322.8 L1309.6,326.9 L1311.6,331.0 L1313.6,335.2 L1315.6,339.4 L1317.6,343.7 L1319.6,348.0 L1321.6,352.4 L1323.6,356.8 L1325.6,361.3 L1327.6,365.8 L1329.6,370.3 L1331.6,374.9 L1333.6,379.5 L1335.6,384.1 L1337.6,388.7 L1339.6,393.3 L1341.6,397.9 L1343.6,402.5 L1345.6,407.2 L1347.6,411.8 L1349.6,416.4 L1351.6,421.0 L1353.6,425.6 L1355.6,430.1 L1357.6,434.7 L1359.6,439.2 L1361.6,443.7 L1363.6,448.1 L1365.6,452.6 L1367.6,456.9 L1369.6,461.3 L1371.6,465.6 L1373.6,469.9 L1375.6,474.1 L1377.6,478.2 L1379.6,482.3 L1381.6,486.4 L1383.6,490.4 L1385.6,494.4 L1387.6,498.2 L1389.6,502.1 L1391.6,505.8 L1393.6,509.6 L1395.6,513.2 L1397.6,516.8 L1399.6,520.3 L1401.6,523.7 L1403.6,527.1 L1405.6,530.4 L1407.6,533.7 L1409.6,536.9 L1411.6,540.0 L1413.6,543.0 L1415.6,546.0 L1417.6,548.9 L1419.6,551.7 L1421.6,554.5 L1423.6,557.2 L1425.6,559.8 L1427.6,562.4 L1429.6,564.9 L1431.6,567.3 L1433.6,569.6 L1435.6,571.9 L1437.6,574.2 L1439.6,576.3 L1441.6,578.4 L1443.6,580.4 L1445.6,582.4 L1447.6,584.3 L1449.6,586.2 L1451.6,588.0 L1453.6,589.7 L1455.6,591.4 L1457.6,593.0 L1459.6,594.6 L1461.6,596.1 L1463.6,597.5 L1465.6,598.9 L1467.6,600.3 L1469.6,601.6 L1471.5,602.9 L1473.5,604.1 L1475.5,605.2 L1477.5,606.4 L1479.5,607.4 L1481.5,608.5 L1483.5,609.5 L1485.5,610.4 L1487.5,611.4 L1489.5,612.2 L1491.5,613.1 L1493.5,613.9 L1495.5,614.6 L1497.5,615.4 L1499.5,616.1 L1501.5,616.8 L1503.5,617.4 L1505.5,618.0 L1507.5,618.6 L1509.5,619.2 L1511.5,619.7 L1513.5,620.2 L1515.5,620.7 L1517.5,621.2 L1519.5,621.6 L1521.5,622.0 L1523.5,622.4 L1525.5,622.8 L1527.5,623.2 L1529.5,623.5 L1531.5,623.9 L1533.5,624.2 L1535.5,624.5 L1537.5,624.7 L1539.5,625.0 L1541.5,625.3 L1543.5,625.5 L1545.5,625.7 L1547.5,625.9 L1549.5,626.1 L1551.5,626.3 L1553.5,626.5 L1555.5,626.7 L1557.5,626.8 L1559.5,627.0 L1561.5,627.1 L1563.5,627.2 L1565.5,627.4 L1567.5,627.5 L1569.5,627.6 L1571.5,627.7 L1573.5,627.8 L1575.5,627.9 L1577.5,628.0 L1579.5,628.1 L1581.5,628.1 L1583.5,628.2 L1585.5,628.3 L1587.5,628.3 L1589.5,628.4 L1591.5,628.5 L1593.5,628.5 L1595.5,628.6 L1597.5,628.6 L1599.5,628.6 L1601.5,628.7 L1603.5,628.7 L1605.5,628.8 L1607.5,628.8 L1609.5,628.8 L1611.5,628.8 L1613.5,628.9 L1615.5,628.9 L1617.5,628.9 L1619.5,628.9 L1621.5,629.0 L1623.5,629.0 L1625.5,629.0 L1627.5,629.0 L1629.5,629.0 L1631.5,629.0 L1633.5,629.0 L1635.5,629.1 L1637.5,629.1"/>
</g>
<g class="crv" clip-path="url(#cb)">
<path stroke="#515151" d="M307.9,1265.0 L1640.0,1265.0"/>
<path stroke="#515151" d="M307.9,1257.0 L309.9,1256.4 L311.9,1255.8 L313.9,1255.1 L315.9,1254.4 L317.9,1253.7 L319.9,1252.9 L321.9,1252.1 L323.9,1251.2 L325.9,1250.3 L327.9,1249.4 L329.9,1248.3 L331.9,1247.3 L333.9,1246.1 L335.9,1244.9 L337.9,1243.7 L339.9,1242.4 L341.9,1241.0 L343.9,1239.5 L345.9,1238.0 L347.9,1236.4 L349.9,1234.7 L351.9,1232.9 L353.9,1231.1 L355.9,1229.1 L357.9,1227.1 L359.9,1225.0 L361.9,1222.8 L363.9,1220.5 L365.9,1218.1 L367.9,1215.6 L369.9,1213.0 L371.9,1210.3 L373.9,1207.5 L375.9,1204.6 L377.9,1201.5 L379.9,1198.4 L381.9,1195.1 L383.9,1191.7 L385.9,1188.2 L387.9,1184.6 L389.9,1180.8 L391.9,1176.9 L393.9,1172.9 L395.9,1168.8 L397.9,1164.5 L399.9,1160.1 L401.9,1155.6 L403.9,1150.9 L405.9,1146.1 L407.9,1141.2 L409.9,1136.2 L411.9,1131.0 L413.9,1125.7 L415.9,1120.2 L417.9,1114.7 L419.9,1109.0 L421.9,1103.1 L423.9,1097.2 L425.9,1091.1 L427.9,1084.9 L429.9,1078.7 L431.9,1072.2 L433.9,1065.7 L435.9,1059.1 L437.9,1052.4 L439.9,1045.6 L441.9,1038.6 L443.9,1031.7 L445.9,1024.6 L447.9,1017.4 L449.9,1010.2 L451.9,1002.9 L453.9,995.6 L455.9,988.2 L457.9,980.7 L459.9,973.3 L461.9,965.8 L463.9,958.2 L465.9,950.7 L467.9,943.2 L469.9,935.6 L471.9,928.1 L473.9,920.6 L475.9,913.1 L477.9,905.7 L479.9,898.3 L481.9,891.0 L483.9,883.7 L485.9,876.5 L487.9,869.4 L489.9,862.4 L491.9,855.5 L493.9,848.8 L495.9,842.1 L497.9,835.6 L499.9,829.2 L501.9,823.0 L503.9,816.9 L505.9,811.0 L507.9,805.3 L509.9,799.8 L511.9,794.5 L513.9,789.4 L515.9,784.5 L517.9,779.8 L519.9,775.3 L521.9,771.1 L523.9,767.2 L525.9,763.4 L527.9,760.0 L529.9,756.8 L531.9,753.8 L533.9,751.2 L535.9,748.8 L537.9,746.6 L539.9,744.8 L541.9,743.3 L543.9,742.0 L545.9,741.0 L547.9,740.4 L549.9,740.0 L551.9,739.9 L553.9,740.1 L555.9,740.6 L557.9,741.4 L559.9,742.5 L561.9,743.9 L563.9,745.5 L565.9,747.5 L567.9,749.7 L569.9,752.2 L571.9,755.0 L573.9,758.1 L575.9,761.4 L577.9,765.0 L579.9,768.8 L581.9,772.9 L583.9,777.2 L585.9,781.7 L587.9,786.5 L589.9,791.5 L591.9,796.7 L593.9,802.1 L595.9,807.7 L597.9,813.5 L599.9,819.4 L601.9,825.6 L603.9,831.9 L605.9,838.3 L607.9,844.9 L609.9,851.6 L611.9,858.4 L613.9,865.3 L615.9,872.4 L617.9,879.5 L619.9,886.7 L621.9,894.0 L623.9,901.4 L625.9,908.8 L627.9,916.2 L629.9,923.7 L631.9,931.2 L633.9,938.8 L635.9,946.3 L637.9,953.8 L639.9,961.4 L641.9,968.9 L643.9,976.4 L645.9,983.8 L647.9,991.3 L649.9,998.6 L651.9,1005.9 L653.9,1013.2 L655.9,1020.4 L657.9,1027.5 L659.9,1034.6 L661.9,1041.5 L663.9,1048.4 L665.9,1055.2 L667.9,1061.9 L669.9,1068.4 L671.9,1074.9 L673.9,1081.3 L675.9,1087.5 L677.9,1093.6 L679.9,1099.6 L681.9,1105.5 L683.9,1111.3 L685.9,1116.9 L687.9,1122.5 L689.9,1127.8 L691.9,1133.1 L693.9,1138.2 L695.9,1143.2 L697.9,1148.1 L699.9,1152.8 L701.9,1157.4 L703.9,1161.9 L705.9,1166.2 L707.9,1170.4 L709.9,1174.5 L711.9,1178.4 L713.9,1182.2 L715.9,1185.9 L717.9,1189.5 L719.9,1193.0 L721.9,1196.3 L723.9,1199.5 L725.9,1202.6 L727.9,1205.6 L729.9,1208.5 L731.9,1211.3 L733.9,1214.0 L735.9,1216.5 L737.9,1219.0 L739.9,1221.4 L741.9,1223.7 L743.9,1225.9 L745.9,1228.0 L747.9,1230.0 L749.9,1231.9 L751.9,1233.7 L753.9,1235.5 L755.9,1237.2 L757.9,1238.8 L759.9,1240.3 L761.9,1241.7 L763.9,1243.1 L765.9,1244.3 L767.9,1245.5 L769.9,1246.7 L771.9,1247.7 L773.9,1248.7 L775.9,1249.6 L777.9,1250.4 L779.9,1251.2 L781.9,1251.9 L783.9,1252.5 L785.9,1253.1 L787.9,1253.6 L789.9,1254.1 L791.9,1254.5 L793.9,1254.9 L795.9,1255.2 L797.9,1255.5 L799.9,1255.8 L801.9,1256.0 L803.9,1256.2 L805.9,1256.3 L807.9,1256.4 L809.9,1256.5 L811.9,1256.6 L813.9,1256.6 L815.9,1256.6 L817.9,1256.6 L819.9,1256.5 L821.9,1256.5 L823.9,1256.4 L825.9,1256.3 L827.9,1256.1 L829.9,1256.0 L831.9,1255.8 L833.9,1255.6 L835.9,1255.3 L837.9,1255.1 L839.9,1254.8 L841.9,1254.5 L843.9,1254.2 L845.9,1253.8 L847.9,1253.5 L849.9,1253.1 L851.9,1252.6 L853.9,1252.2 L855.9,1251.7 L857.9,1251.3 L859.9,1250.7 L861.9,1250.2 L863.9,1249.7 L865.9,1249.1 L867.9,1248.5 L869.9,1247.9 L871.9,1247.2 L873.9,1246.5 L875.9,1245.9 L877.9,1245.1 L879.9,1244.4 L881.9,1243.7 L883.9,1242.9 L885.9,1242.1 L887.9,1241.3 L889.9,1240.4 L891.9,1239.6 L893.9,1238.7 L895.9,1237.8 L897.9,1236.8 L899.9,1235.9 L901.9,1234.9 L903.9,1233.9 L905.9,1232.9 L907.9,1231.9 L909.9,1230.8 L911.9,1229.8 L913.9,1228.7 L915.9,1227.6 L917.9,1226.5 L919.9,1225.3 L921.9,1224.1 L923.9,1223.0 L925.9,1221.8 L927.9,1220.6 L929.9,1219.3 L931.9,1218.1 L933.9,1216.8 L935.9,1215.5 L937.9,1214.2 L939.9,1212.9 L941.9,1211.6 L943.9,1210.3 L945.9,1208.9 L947.9,1207.6 L949.9,1206.2 L951.9,1204.8 L953.9,1203.5 L955.9,1202.1 L957.9,1200.7 L959.9,1199.2 L961.9,1197.8 L963.9,1196.4 L965.9,1195.0 L967.9,1193.5 L969.9,1192.1 L971.9,1190.6 L973.9,1189.1 L976.0,1187.7 L978.0,1186.2 L980.0,1184.7 L982.0,1183.3 L984.0,1181.8 L986.0,1180.3 L988.0,1178.8 L990.0,1177.4 L992.0,1175.9 L994.0,1174.4 L996.0,1172.9 L998.0,1171.4 L1000.0,1169.9 L1002.0,1168.5 L1004.0,1167.0 L1006.0,1165.5 L1008.0,1164.0 L1010.0,1162.5 L1012.0,1161.1 L1014.0,1159.6 L1016.0,1158.1 L1018.0,1156.6 L1020.0,1155.1 L1022.0,1153.7 L1024.0,1152.2 L1026.0,1150.7 L1028.0,1149.2 L1030.0,1147.8 L1032.0,1146.3 L1034.0,1144.8 L1036.0,1143.3 L1038.0,1141.8 L1040.0,1140.4 L1042.0,1138.9 L1044.0,1137.4 L1046.0,1135.9 L1048.0,1134.4 L1050.0,1132.9 L1052.0,1131.4 L1054.0,1129.8 L1056.0,1128.3 L1058.0,1126.8 L1060.0,1125.2 L1062.0,1123.7 L1064.0,1122.1 L1066.0,1120.6 L1068.0,1119.0 L1070.0,1117.4 L1072.0,1115.8 L1074.0,1114.2 L1076.0,1112.6 L1078.0,1111.0 L1080.0,1109.3 L1082.0,1107.6 L1084.0,1106.0 L1086.0,1104.3 L1088.0,1102.6 L1090.0,1100.8 L1092.0,1099.1 L1094.0,1097.3 L1096.0,1095.6 L1098.0,1093.8 L1100.0,1092.0 L1102.0,1090.2 L1104.0,1088.3 L1106.0,1086.5 L1108.0,1084.6 L1110.0,1082.7 L1112.0,1080.8 L1114.0,1078.9 L1116.0,1076.9 L1118.0,1075.0 L1120.0,1073.0 L1122.0,1071.0 L1124.0,1069.0 L1126.0,1067.0 L1128.0,1065.0 L1130.0,1062.9 L1132.0,1060.8 L1134.0,1058.8 L1136.0,1056.7 L1138.0,1054.6 L1140.0,1052.5 L1142.0,1050.4 L1144.0,1048.3 L1146.0,1046.2 L1148.0,1044.0 L1150.0,1041.9 L1152.0,1039.8 L1154.0,1037.7 L1156.0,1035.5 L1158.0,1033.4 L1160.0,1031.3 L1162.0,1029.2 L1164.0,1027.1 L1166.0,1025.0 L1168.0,1022.9 L1170.0,1020.8 L1172.0,1018.7 L1174.0,1016.7 L1176.0,1014.7 L1178.0,1012.7 L1180.0,1010.7 L1182.0,1008.7 L1184.0,1006.8 L1186.0,1004.9 L1188.0,1003.0 L1190.0,1001.1 L1192.0,999.3 L1194.0,997.5 L1196.0,995.8 L1198.0,994.1 L1200.0,992.4 L1202.0,990.8 L1204.0,989.2 L1206.0,987.7 L1208.0,986.2 L1210.0,984.8 L1212.0,983.4 L1214.0,982.1 L1216.0,980.8 L1218.0,979.6 L1220.0,978.4 L1222.0,977.3 L1224.0,976.3 L1226.0,975.3 L1228.0,974.4 L1230.0,973.6 L1232.0,972.8 L1234.0,972.1 L1236.0,971.5 L1238.0,970.9 L1240.0,970.4 L1242.0,970.0 L1244.0,969.7 L1246.0,969.4 L1248.0,969.2 L1250.0,969.1 L1252.0,969.0 L1254.0,969.0 L1256.0,969.2 L1258.0,969.3 L1260.0,969.6 L1262.0,969.9 L1264.0,970.4 L1266.0,970.9 L1268.0,971.4 L1270.0,972.1 L1272.0,972.8 L1274.0,973.6 L1276.0,974.5 L1278.0,975.5 L1280.0,976.5 L1282.0,977.6 L1284.0,978.8 L1286.0,980.1 L1288.0,981.4 L1290.0,982.9 L1292.0,984.3 L1294.0,985.9 L1296.0,987.5 L1298.0,989.2 L1300.0,991.0 L1302.0,992.8 L1304.0,994.7 L1306.0,996.6 L1308.0,998.7 L1310.0,1000.7 L1312.0,1002.9 L1314.0,1005.1 L1316.0,1007.3 L1318.0,1009.6 L1320.0,1012.0 L1322.0,1014.4 L1324.0,1016.8 L1326.0,1019.3 L1328.0,1021.9 L1330.0,1024.5 L1332.0,1027.1 L1334.0,1029.8 L1336.0,1032.5 L1338.0,1035.2 L1340.0,1038.0 L1342.0,1040.8 L1344.0,1043.6 L1346.0,1046.5 L1348.0,1049.4 L1350.0,1052.3 L1352.0,1055.2 L1354.0,1058.2 L1356.0,1061.2 L1358.0,1064.2 L1360.0,1067.2 L1362.0,1070.2 L1364.0,1073.2 L1366.0,1076.3 L1368.0,1079.3 L1370.0,1082.4 L1372.0,1085.4 L1374.0,1088.5 L1376.0,1091.5 L1378.0,1094.6 L1380.0,1097.6 L1382.0,1100.6 L1384.0,1103.7 L1386.0,1106.7 L1388.0,1109.7 L1390.0,1112.7 L1392.0,1115.7 L1394.0,1118.6 L1396.0,1121.6 L1398.0,1124.5 L1400.0,1127.4 L1402.0,1130.3 L1404.0,1133.2 L1406.0,1136.1 L1408.0,1138.9 L1410.0,1141.7 L1412.0,1144.5 L1414.0,1147.2 L1416.0,1149.9 L1418.0,1152.6 L1420.0,1155.3 L1422.0,1157.9 L1424.0,1160.5 L1426.0,1163.0 L1428.0,1165.6 L1430.0,1168.1 L1432.0,1170.5 L1434.0,1172.9 L1436.0,1175.3 L1438.0,1177.7 L1440.0,1180.0 L1442.0,1182.3 L1444.0,1184.5 L1446.0,1186.7 L1448.0,1188.9 L1450.0,1191.0 L1452.0,1193.1 L1454.0,1195.2 L1456.0,1197.2 L1458.0,1199.2 L1460.0,1201.1 L1462.0,1203.0 L1464.0,1204.9 L1466.0,1206.7 L1468.0,1208.5 L1470.0,1210.2 L1472.0,1211.9 L1474.0,1213.6 L1476.0,1215.2 L1478.0,1216.8 L1480.0,1218.4 L1482.0,1219.9 L1484.0,1221.4 L1486.0,1222.8 L1488.0,1224.2 L1490.0,1225.6 L1492.0,1226.9 L1494.0,1228.3 L1496.0,1229.5 L1498.0,1230.8 L1500.0,1232.0 L1502.0,1233.1 L1504.0,1234.3 L1506.0,1235.4 L1508.0,1236.5 L1510.0,1237.5 L1512.0,1238.5 L1514.0,1239.5 L1516.0,1240.5 L1518.0,1241.4 L1520.0,1242.3 L1522.0,1243.2 L1524.0,1244.0 L1526.0,1244.9 L1528.0,1245.6 L1530.0,1246.4 L1532.0,1247.2 L1534.0,1247.9 L1536.0,1248.6 L1538.0,1249.2 L1540.0,1249.9 L1542.0,1250.5 L1544.0,1251.1 L1546.0,1251.7 L1548.0,1252.3 L1550.0,1252.8 L1552.0,1253.3 L1554.0,1253.9 L1556.0,1254.3 L1558.0,1254.8 L1560.0,1255.3 L1562.0,1255.7 L1564.0,1256.1 L1566.0,1256.5 L1568.0,1256.9 L1570.0,1257.3 L1572.0,1257.6 L1574.0,1258.0 L1576.0,1258.3 L1578.0,1258.6 L1580.0,1258.9 L1582.0,1259.2 L1584.0,1259.5 L1586.0,1259.8 L1588.0,1260.0 L1590.0,1260.3 L1592.0,1260.5 L1594.0,1260.7 L1596.0,1261.0 L1598.0,1261.2 L1600.0,1261.4 L1602.0,1261.6 L1604.0,1261.7 L1606.0,1261.9 L1608.0,1262.1 L1610.0,1262.2 L1612.0,1262.4 L1614.0,1262.5 L1616.0,1262.7 L1618.0,1262.8 L1620.0,1262.9 L1622.0,1263.0 L1624.0,1263.2 L1626.0,1263.3 L1628.0,1263.4 L1630.0,1263.5 L1632.0,1263.6 L1634.0,1263.6 L1636.0,1263.7 L1638.0,1263.8 L1640.0,1263.9"/>
<path stroke="#F14040" d="M307.9,1265.0 L309.9,1265.0 L311.9,1265.0 L313.9,1265.0 L315.9,1265.0 L317.9,1265.0 L319.9,1265.0 L321.9,1265.0 L323.9,1265.0 L325.9,1265.0 L327.9,1265.0 L329.9,1265.0 L331.9,1265.0 L333.9,1265.0 L335.9,1265.0 L337.9,1265.0 L339.9,1265.0 L341.9,1265.0 L343.9,1265.0 L345.9,1265.0 L347.9,1265.0 L349.9,1265.0 L351.9,1265.0 L353.9,1265.0 L355.9,1265.0 L357.9,1265.0 L359.9,1265.0 L361.9,1265.0 L363.9,1265.0 L365.9,1265.0 L367.9,1265.0 L369.9,1265.0 L371.9,1265.0 L373.9,1265.0 L375.9,1265.0 L377.9,1265.0 L379.9,1265.0 L381.9,1265.0 L383.9,1265.0 L385.9,1265.0 L387.9,1265.0 L389.9,1265.0 L391.9,1265.0 L393.9,1265.0 L395.9,1265.0 L397.9,1265.0 L399.9,1265.0 L401.9,1265.0 L403.9,1265.0 L405.9,1265.0 L407.9,1265.0 L409.9,1265.0 L411.9,1265.0 L413.9,1265.0 L415.9,1265.0 L417.9,1265.0 L419.9,1265.0 L421.9,1265.0 L423.9,1265.0 L425.9,1265.0 L427.9,1265.0 L429.9,1265.0 L431.9,1265.0 L433.9,1265.0 L435.9,1265.0 L437.9,1265.0 L439.9,1265.0 L441.9,1265.0 L443.9,1265.0 L445.9,1265.0 L447.9,1265.0 L449.9,1265.0 L451.9,1265.0 L453.9,1265.0 L455.9,1265.0 L457.9,1265.0 L459.9,1265.0 L461.9,1265.0 L463.9,1265.0 L465.9,1265.0 L467.9,1265.0 L469.9,1265.0 L471.9,1265.0 L473.9,1265.0 L475.9,1265.0 L477.9,1265.0 L479.9,1265.0 L481.9,1265.0 L483.9,1265.0 L485.9,1265.0 L487.9,1265.0 L489.9,1265.0 L491.9,1265.0 L493.9,1265.0 L495.9,1265.0 L497.9,1265.0 L499.9,1265.0 L501.9,1265.0 L503.9,1265.0 L505.9,1265.0 L507.9,1265.0 L509.9,1265.0 L511.9,1265.0 L513.9,1265.0 L515.9,1265.0 L517.9,1265.0 L519.9,1265.0 L521.9,1265.0 L523.9,1265.0 L525.9,1265.0 L527.9,1265.0 L529.9,1265.0 L531.9,1265.0 L533.9,1265.0 L535.9,1265.0 L537.9,1265.0 L539.9,1265.0 L541.9,1265.0 L543.9,1265.0 L545.9,1265.0 L547.9,1265.0 L549.9,1265.0 L551.9,1265.0 L553.9,1265.0 L555.9,1265.0 L557.9,1265.0 L559.9,1265.0 L561.9,1265.0 L563.9,1265.0 L565.9,1265.0 L567.9,1265.0 L569.9,1265.0 L571.9,1265.0 L573.9,1265.0 L575.9,1265.0 L577.9,1265.0 L579.9,1265.0 L581.9,1265.0 L583.9,1265.0 L585.9,1265.0 L587.9,1265.0 L589.9,1265.0 L591.9,1265.0 L593.9,1265.0 L595.9,1265.0 L597.9,1265.0 L599.9,1265.0 L601.9,1265.0 L603.9,1265.0 L605.9,1265.0 L607.9,1265.0 L609.9,1265.0 L611.9,1265.0 L613.9,1265.0 L615.9,1265.0 L617.9,1265.0 L619.9,1265.0 L621.9,1265.0 L623.9,1265.0 L625.9,1265.0 L627.9,1265.0 L629.9,1265.0 L631.9,1265.0 L633.9,1265.0 L635.9,1265.0 L637.9,1265.0 L639.9,1265.0 L641.9,1265.0 L643.9,1265.0 L645.9,1265.0 L647.9,1265.0 L649.9,1265.0 L651.9,1265.0 L653.9,1265.0 L655.9,1265.0 L657.9,1265.0 L659.9,1265.0 L661.9,1265.0 L663.9,1265.0 L665.9,1265.0 L667.9,1265.0 L669.9,1265.0 L671.9,1265.0 L673.9,1265.0 L675.9,1265.0 L677.9,1265.0 L679.9,1265.0 L681.9,1264.9 L683.9,1264.9 L685.9,1264.9 L687.9,1264.9 L689.9,1264.9 L691.9,1264.9 L693.9,1264.9 L695.9,1264.9 L697.9,1264.9 L699.9,1264.9 L701.9,1264.9 L703.9,1264.9 L705.9,1264.9 L707.9,1264.9 L709.9,1264.8 L711.9,1264.8 L713.9,1264.8 L715.9,1264.8 L717.9,1264.8 L719.9,1264.8 L721.9,1264.8 L723.9,1264.7 L725.9,1264.7 L727.9,1264.7 L729.9,1264.7 L731.9,1264.6 L733.9,1264.6 L735.9,1264.6 L737.9,1264.6 L739.9,1264.5 L741.9,1264.5 L743.9,1264.5 L745.9,1264.4 L747.9,1264.4 L749.9,1264.3 L751.9,1264.3 L753.9,1264.2 L755.9,1264.2 L757.9,1264.1 L759.9,1264.1 L761.9,1264.0 L763.9,1263.9 L765.9,1263.9 L767.9,1263.8 L769.9,1263.7 L771.9,1263.6 L773.9,1263.6 L775.9,1263.5 L777.9,1263.4 L779.9,1263.3 L781.9,1263.2 L783.9,1263.1 L785.9,1262.9 L787.9,1262.8 L789.9,1262.7 L791.9,1262.6 L793.9,1262.4 L795.9,1262.3 L797.9,1262.1 L799.9,1261.9 L801.9,1261.8 L803.9,1261.6 L805.9,1261.4 L807.9,1261.2 L809.9,1261.0 L811.9,1260.8 L813.9,1260.5 L815.9,1260.3 L817.9,1260.1 L819.9,1259.8 L821.9,1259.5 L823.9,1259.3 L825.9,1259.0 L827.9,1258.7 L829.9,1258.4 L831.9,1258.0 L833.9,1257.7 L835.9,1257.4 L837.9,1257.0 L839.9,1256.6 L841.9,1256.2 L843.9,1255.8 L845.9,1255.4 L847.9,1255.0 L849.9,1254.5 L851.9,1254.1 L853.9,1253.6 L855.9,1253.1 L857.9,1252.6 L859.9,1252.1 L861.9,1251.6 L863.9,1251.0 L865.9,1250.4 L867.9,1249.9 L869.9,1249.3 L871.9,1248.7 L873.9,1248.0 L875.9,1247.4 L877.9,1246.7 L879.9,1246.0 L881.9,1245.4 L883.9,1244.7 L885.9,1243.9 L887.9,1243.2 L889.9,1242.4 L891.9,1241.7 L893.9,1240.9 L895.9,1240.1 L897.9,1239.3 L899.9,1238.5 L901.9,1237.6 L903.9,1236.8 L905.9,1235.9 L907.9,1235.1 L909.9,1234.2 L911.9,1233.3 L913.9,1232.4 L915.9,1231.5 L917.9,1230.5 L919.9,1229.6 L921.9,1228.7 L923.9,1227.7 L925.9,1226.8 L927.9,1225.8 L929.9,1224.8 L931.9,1223.9 L933.9,1222.9 L935.9,1221.9 L937.9,1220.9 L939.9,1220.0 L941.9,1219.0 L943.9,1218.0 L945.9,1217.0 L947.9,1216.1 L949.9,1215.1 L951.9,1214.1 L953.9,1213.2 L955.9,1212.2 L957.9,1211.3 L959.9,1210.4 L961.9,1209.5 L963.9,1208.6 L965.9,1207.7 L967.9,1206.8 L969.9,1205.9 L971.9,1205.1 L973.9,1204.2 L976.0,1203.4 L978.0,1202.6 L980.0,1201.9 L982.0,1201.1 L984.0,1200.4 L986.0,1199.7 L988.0,1199.0 L990.0,1198.3 L992.0,1197.7 L994.0,1197.1 L996.0,1196.5 L998.0,1195.9 L1000.0,1195.4 L1002.0,1194.9 L1004.0,1194.4 L1006.0,1194.0 L1008.0,1193.6 L1010.0,1193.2 L1012.0,1192.9 L1014.0,1192.6 L1016.0,1192.3 L1018.0,1192.1 L1020.0,1191.9 L1022.0,1191.7 L1024.0,1191.5 L1026.0,1191.4 L1028.0,1191.4 L1030.0,1191.4 L1032.0,1191.4 L1034.0,1191.4 L1036.0,1191.5 L1038.0,1191.6 L1040.0,1191.7 L1042.0,1191.9 L1044.0,1192.1 L1046.0,1192.4 L1048.0,1192.6 L1050.0,1193.0 L1052.0,1193.3 L1054.0,1193.7 L1056.0,1194.1 L1058.0,1194.5 L1060.0,1195.0 L1062.0,1195.5 L1064.0,1196.1 L1066.0,1196.6 L1068.0,1197.2 L1070.0,1197.8 L1072.0,1198.5 L1074.0,1199.1 L1076.0,1199.8 L1078.0,1200.5 L1080.0,1201.3 L1082.0,1202.0 L1084.0,1202.8 L1086.0,1203.6 L1088.0,1204.4 L1090.0,1205.3 L1092.0,1206.1 L1094.0,1207.0 L1096.0,1207.9 L1098.0,1208.8 L1100.0,1209.7 L1102.0,1210.6 L1104.0,1211.5 L1106.0,1212.5 L1108.0,1213.4 L1110.0,1214.4 L1112.0,1215.4 L1114.0,1216.3 L1116.0,1217.3 L1118.0,1218.3 L1120.0,1219.2 L1122.0,1220.2 L1124.0,1221.2 L1126.0,1222.2 L1128.0,1223.1 L1130.0,1224.1 L1132.0,1225.1 L1134.0,1226.0 L1136.0,1227.0 L1138.0,1228.0 L1140.0,1228.9 L1142.0,1229.8 L1144.0,1230.8 L1146.0,1231.7 L1148.0,1232.6 L1150.0,1233.5 L1152.0,1234.4 L1154.0,1235.3 L1156.0,1236.1 L1158.0,1237.0 L1160.0,1237.8 L1162.0,1238.7 L1164.0,1239.5 L1166.0,1240.3 L1168.0,1241.1 L1170.0,1241.9 L1172.0,1242.6 L1174.0,1243.4 L1176.0,1244.1 L1178.0,1244.8 L1180.0,1245.5 L1182.0,1246.2 L1184.0,1246.9 L1186.0,1247.5 L1188.0,1248.2 L1190.0,1248.8 L1192.0,1249.4 L1194.0,1250.0 L1196.0,1250.6 L1198.0,1251.1 L1200.0,1251.7 L1202.0,1252.2 L1204.0,1252.7 L1206.0,1253.2 L1208.0,1253.7 L1210.0,1254.2 L1212.0,1254.6 L1214.0,1255.1 L1216.0,1255.5 L1218.0,1255.9 L1220.0,1256.3 L1222.0,1256.7 L1224.0,1257.1 L1226.0,1257.4 L1228.0,1257.8 L1230.0,1258.1 L1232.0,1258.4 L1234.0,1258.8 L1236.0,1259.1 L1238.0,1259.3 L1240.0,1259.6 L1242.0,1259.9 L1244.0,1260.1 L1246.0,1260.4 L1248.0,1260.6 L1250.0,1260.8 L1252.0,1261.0 L1254.0,1261.2 L1256.0,1261.4 L1258.0,1261.6 L1260.0,1261.8 L1262.0,1262.0 L1264.0,1262.1 L1266.0,1262.3 L1268.0,1262.4 L1270.0,1262.6 L1272.0,1262.7 L1274.0,1262.9 L1276.0,1263.0 L1278.0,1263.1 L1280.0,1263.2 L1282.0,1263.3 L1284.0,1263.4 L1286.0,1263.5 L1288.0,1263.6 L1290.0,1263.7 L1292.0,1263.8 L1294.0,1263.8 L1296.0,1263.9 L1298.0,1264.0 L1300.0,1264.0 L1302.0,1264.1 L1304.0,1264.1 L1306.0,1264.2 L1308.0,1264.3 L1310.0,1264.3 L1312.0,1264.3 L1314.0,1264.4 L1316.0,1264.4 L1318.0,1264.5 L1320.0,1264.5 L1322.0,1264.5 L1324.0,1264.6 L1326.0,1264.6 L1328.0,1264.6 L1330.0,1264.6 L1332.0,1264.7 L1334.0,1264.7 L1336.0,1264.7 L1338.0,1264.7 L1340.0,1264.8 L1342.0,1264.8 L1344.0,1264.8 L1346.0,1264.8 L1348.0,1264.8 L1350.0,1264.8 L1352.0,1264.8 L1354.0,1264.9 L1356.0,1264.9 L1358.0,1264.9 L1360.0,1264.9 L1362.0,1264.9 L1364.0,1264.9 L1366.0,1264.9 L1368.0,1264.9 L1370.0,1264.9 L1372.0,1264.9 L1374.0,1264.9 L1376.0,1264.9 L1378.0,1264.9 L1380.0,1264.9 L1382.0,1265.0 L1384.0,1265.0 L1386.0,1265.0 L1388.0,1265.0 L1390.0,1265.0 L1392.0,1265.0 L1394.0,1265.0 L1396.0,1265.0 L1398.0,1265.0 L1400.0,1265.0 L1402.0,1265.0 L1404.0,1265.0 L1406.0,1265.0 L1408.0,1265.0 L1410.0,1265.0 L1412.0,1265.0 L1414.0,1265.0 L1416.0,1265.0 L1418.0,1265.0 L1420.0,1265.0 L1422.0,1265.0 L1424.0,1265.0 L1426.0,1265.0 L1428.0,1265.0 L1430.0,1265.0 L1432.0,1265.0 L1434.0,1265.0 L1436.0,1265.0 L1438.0,1265.0 L1440.0,1265.0 L1442.0,1265.0 L1444.0,1265.0 L1446.0,1265.0 L1448.0,1265.0 L1450.0,1265.0 L1452.0,1265.0 L1454.0,1265.0 L1456.0,1265.0 L1458.0,1265.0 L1460.0,1265.0 L1462.0,1265.0 L1464.0,1265.0 L1466.0,1265.0 L1468.0,1265.0 L1470.0,1265.0 L1472.0,1265.0 L1474.0,1265.0 L1476.0,1265.0 L1478.0,1265.0 L1480.0,1265.0 L1482.0,1265.0 L1484.0,1265.0 L1486.0,1265.0 L1488.0,1265.0 L1490.0,1265.0 L1492.0,1265.0 L1494.0,1265.0 L1496.0,1265.0 L1498.0,1265.0 L1500.0,1265.0 L1502.0,1265.0 L1504.0,1265.0 L1506.0,1265.0 L1508.0,1265.0 L1510.0,1265.0 L1512.0,1265.0 L1514.0,1265.0 L1516.0,1265.0 L1518.0,1265.0 L1520.0,1265.0 L1522.0,1265.0 L1524.0,1265.0 L1526.0,1265.0 L1528.0,1265.0 L1530.0,1265.0 L1532.0,1265.0 L1534.0,1265.0 L1536.0,1265.0 L1538.0,1265.0 L1540.0,1265.0 L1542.0,1265.0 L1544.0,1265.0 L1546.0,1265.0 L1548.0,1265.0 L1550.0,1265.0 L1552.0,1265.0 L1554.0,1265.0 L1556.0,1265.0 L1558.0,1265.0 L1560.0,1265.0 L1562.0,1265.0 L1564.0,1265.0 L1566.0,1265.0 L1568.0,1265.0 L1570.0,1265.0 L1572.0,1265.0 L1574.0,1265.0 L1576.0,1265.0 L1578.0,1265.0 L1580.0,1265.0 L1582.0,1265.0 L1584.0,1265.0 L1586.0,1265.0 L1588.0,1265.0 L1590.0,1265.0 L1592.0,1265.0 L1594.0,1265.0 L1596.0,1265.0 L1598.0,1265.0 L1600.0,1265.0 L1602.0,1265.0 L1604.0,1265.0 L1606.0,1265.0 L1608.0,1265.0 L1610.0,1265.0 L1612.0,1265.0 L1614.0,1265.0 L1616.0,1265.0 L1618.0,1265.0 L1620.0,1265.0 L1622.0,1265.0 L1624.0,1265.0 L1626.0,1265.0 L1628.0,1265.0 L1630.0,1265.0 L1632.0,1265.0 L1634.0,1265.0 L1636.0,1265.0 L1638.0,1265.0 L1640.0,1265.0"/>
<path stroke="#1A6FDF" d="M307.9,1265.0 L309.9,1265.0 L311.9,1265.0 L313.9,1265.0 L315.9,1265.0 L317.9,1265.0 L319.9,1265.0 L321.9,1265.0 L323.9,1265.0 L325.9,1265.0 L327.9,1265.0 L329.9,1265.0 L331.9,1265.0 L333.9,1265.0 L335.9,1265.0 L337.9,1265.0 L339.9,1265.0 L341.9,1265.0 L343.9,1265.0 L345.9,1265.0 L347.9,1265.0 L349.9,1265.0 L351.9,1265.0 L353.9,1265.0 L355.9,1265.0 L357.9,1265.0 L359.9,1265.0 L361.9,1265.0 L363.9,1265.0 L365.9,1265.0 L367.9,1265.0 L369.9,1265.0 L371.9,1265.0 L373.9,1265.0 L375.9,1265.0 L377.9,1265.0 L379.9,1265.0 L381.9,1265.0 L383.9,1265.0 L385.9,1265.0 L387.9,1265.0 L389.9,1265.0 L391.9,1265.0 L393.9,1265.0 L395.9,1265.0 L397.9,1265.0 L399.9,1265.0 L401.9,1265.0 L403.9,1265.0 L405.9,1265.0 L407.9,1265.0 L409.9,1265.0 L411.9,1265.0 L413.9,1265.0 L415.9,1265.0 L417.9,1265.0 L419.9,1265.0 L421.9,1265.0 L423.9,1265.0 L425.9,1265.0 L427.9,1265.0 L429.9,1265.0 L431.9,1265.0 L433.9,1265.0 L435.9,1265.0 L437.9,1265.0 L439.9,1265.0 L441.9,1265.0 L443.9,1265.0 L445.9,1265.0 L447.9,1265.0 L449.9,1265.0 L451.9,1265.0 L453.9,1265.0 L455.9,1265.0 L457.9,1265.0 L459.9,1265.0 L461.9,1265.0 L463.9,1265.0 L465.9,1265.0 L467.9,1265.0 L469.9,1265.0 L471.9,1265.0 L473.9,1265.0 L475.9,1265.0 L477.9,1265.0 L479.9,1265.0 L481.9,1265.0 L483.9,1265.0 L485.9,1265.0 L487.9,1265.0 L489.9,1265.0 L491.9,1265.0 L493.9,1265.0 L495.9,1265.0 L497.9,1265.0 L499.9,1265.0 L501.9,1265.0 L503.9,1265.0 L505.9,1265.0 L507.9,1265.0 L509.9,1265.0 L511.9,1265.0 L513.9,1265.0 L515.9,1265.0 L517.9,1265.0 L519.9,1265.0 L521.9,1265.0 L523.9,1265.0 L525.9,1265.0 L527.9,1265.0 L529.9,1265.0 L531.9,1265.0 L533.9,1265.0 L535.9,1265.0 L537.9,1265.0 L539.9,1265.0 L541.9,1265.0 L543.9,1265.0 L545.9,1265.0 L547.9,1265.0 L549.9,1265.0 L551.9,1265.0 L553.9,1265.0 L555.9,1265.0 L557.9,1265.0 L559.9,1265.0 L561.9,1265.0 L563.9,1265.0 L565.9,1265.0 L567.9,1265.0 L569.9,1265.0 L571.9,1265.0 L573.9,1265.0 L575.9,1265.0 L577.9,1265.0 L579.9,1265.0 L581.9,1265.0 L583.9,1265.0 L585.9,1265.0 L587.9,1265.0 L589.9,1265.0 L591.9,1265.0 L593.9,1265.0 L595.9,1265.0 L597.9,1265.0 L599.9,1265.0 L601.9,1265.0 L603.9,1265.0 L605.9,1265.0 L607.9,1265.0 L609.9,1265.0 L611.9,1265.0 L613.9,1265.0 L615.9,1265.0 L617.9,1265.0 L619.9,1265.0 L621.9,1265.0 L623.9,1265.0 L625.9,1265.0 L627.9,1265.0 L629.9,1265.0 L631.9,1265.0 L633.9,1265.0 L635.9,1265.0 L637.9,1265.0 L639.9,1265.0 L641.9,1265.0 L643.9,1265.0 L645.9,1265.0 L647.9,1265.0 L649.9,1265.0 L651.9,1265.0 L653.9,1265.0 L655.9,1265.0 L657.9,1265.0 L659.9,1265.0 L661.9,1265.0 L663.9,1265.0 L665.9,1265.0 L667.9,1265.0 L669.9,1265.0 L671.9,1265.0 L673.9,1265.0 L675.9,1265.0 L677.9,1265.0 L679.9,1265.0 L681.9,1265.0 L683.9,1265.0 L685.9,1265.0 L687.9,1265.0 L689.9,1265.0 L691.9,1265.0 L693.9,1265.0 L695.9,1265.0 L697.9,1265.0 L699.9,1265.0 L701.9,1265.0 L703.9,1265.0 L705.9,1265.0 L707.9,1265.0 L709.9,1265.0 L711.9,1265.0 L713.9,1265.0 L715.9,1265.0 L717.9,1265.0 L719.9,1265.0 L721.9,1265.0 L723.9,1265.0 L725.9,1265.0 L727.9,1265.0 L729.9,1265.0 L731.9,1265.0 L733.9,1265.0 L735.9,1265.0 L737.9,1265.0 L739.9,1265.0 L741.9,1265.0 L743.9,1265.0 L745.9,1265.0 L747.9,1265.0 L749.9,1265.0 L751.9,1265.0 L753.9,1265.0 L755.9,1265.0 L757.9,1265.0 L759.9,1265.0 L761.9,1265.0 L763.9,1265.0 L765.9,1265.0 L767.9,1265.0 L769.9,1265.0 L771.9,1264.9 L773.9,1264.9 L775.9,1264.9 L777.9,1264.9 L779.9,1264.9 L781.9,1264.9 L783.9,1264.9 L785.9,1264.9 L787.9,1264.9 L789.9,1264.9 L791.9,1264.9 L793.9,1264.9 L795.9,1264.9 L797.9,1264.9 L799.9,1264.9 L801.9,1264.9 L803.9,1264.8 L805.9,1264.8 L807.9,1264.8 L809.9,1264.8 L811.9,1264.8 L813.9,1264.8 L815.9,1264.8 L817.9,1264.8 L819.9,1264.7 L821.9,1264.7 L823.9,1264.7 L825.9,1264.7 L827.9,1264.7 L829.9,1264.6 L831.9,1264.6 L833.9,1264.6 L835.9,1264.6 L837.9,1264.5 L839.9,1264.5 L841.9,1264.5 L843.9,1264.5 L845.9,1264.4 L847.9,1264.4 L849.9,1264.3 L851.9,1264.3 L853.9,1264.3 L855.9,1264.2 L857.9,1264.2 L859.9,1264.1 L861.9,1264.1 L863.9,1264.0 L865.9,1264.0 L867.9,1263.9 L869.9,1263.8 L871.9,1263.8 L873.9,1263.7 L875.9,1263.6 L877.9,1263.5 L879.9,1263.4 L881.9,1263.4 L883.9,1263.3 L885.9,1263.2 L887.9,1263.1 L889.9,1263.0 L891.9,1262.8 L893.9,1262.7 L895.9,1262.6 L897.9,1262.5 L899.9,1262.3 L901.9,1262.2 L903.9,1262.0 L905.9,1261.9 L907.9,1261.7 L909.9,1261.5 L911.9,1261.4 L913.9,1261.2 L915.9,1261.0 L917.9,1260.8 L919.9,1260.5 L921.9,1260.3 L923.9,1260.1 L925.9,1259.8 L927.9,1259.6 L929.9,1259.3 L931.9,1259.0 L933.9,1258.7 L935.9,1258.4 L937.9,1258.1 L939.9,1257.8 L941.9,1257.4 L943.9,1257.1 L945.9,1256.7 L947.9,1256.3 L949.9,1255.9 L951.9,1255.5 L953.9,1255.1 L955.9,1254.6 L957.9,1254.2 L959.9,1253.7 L961.9,1253.2 L963.9,1252.6 L965.9,1252.1 L967.9,1251.5 L969.9,1250.9 L971.9,1250.3 L973.9,1249.7 L976.0,1249.1 L978.0,1248.4 L980.0,1247.7 L982.0,1247.0 L984.0,1246.2 L986.0,1245.5 L988.0,1244.7 L990.0,1243.9 L992.0,1243.0 L994.0,1242.1 L996.0,1241.2 L998.0,1240.3 L1000.0,1239.4 L1002.0,1238.4 L1004.0,1237.4 L1006.0,1236.3 L1008.0,1235.2 L1010.0,1234.1 L1012.0,1233.0 L1014.0,1231.8 L1016.0,1230.6 L1018.0,1229.4 L1020.0,1228.1 L1022.0,1226.8 L1024.0,1225.4 L1026.0,1224.1 L1028.0,1222.7 L1030.0,1221.2 L1032.0,1219.7 L1034.0,1218.2 L1036.0,1216.7 L1038.0,1215.1 L1040.0,1213.4 L1042.0,1211.8 L1044.0,1210.1 L1046.0,1208.3 L1048.0,1206.5 L1050.0,1204.7 L1052.0,1202.8 L1054.0,1200.9 L1056.0,1199.0 L1058.0,1197.0 L1060.0,1195.0 L1062.0,1193.0 L1064.0,1190.9 L1066.0,1188.8 L1068.0,1186.6 L1070.0,1184.4 L1072.0,1182.1 L1074.0,1179.9 L1076.0,1177.6 L1078.0,1175.2 L1080.0,1172.8 L1082.0,1170.4 L1084.0,1167.9 L1086.0,1165.4 L1088.0,1162.9 L1090.0,1160.4 L1092.0,1157.8 L1094.0,1155.1 L1096.0,1152.5 L1098.0,1149.8 L1100.0,1147.1 L1102.0,1144.3 L1104.0,1141.6 L1106.0,1138.8 L1108.0,1136.0 L1110.0,1133.1 L1112.0,1130.2 L1114.0,1127.4 L1116.0,1124.4 L1118.0,1121.5 L1120.0,1118.6 L1122.0,1115.6 L1124.0,1112.6 L1126.0,1109.6 L1128.0,1106.6 L1130.0,1103.6 L1132.0,1100.6 L1134.0,1097.5 L1136.0,1094.5 L1138.0,1091.5 L1140.0,1088.4 L1142.0,1085.4 L1144.0,1082.3 L1146.0,1079.3 L1148.0,1076.2 L1150.0,1073.2 L1152.0,1070.2 L1154.0,1067.2 L1156.0,1064.2 L1158.0,1061.2 L1160.0,1058.2 L1162.0,1055.3 L1164.0,1052.4 L1166.0,1049.5 L1168.0,1046.6 L1170.0,1043.7 L1172.0,1040.9 L1174.0,1038.1 L1176.0,1035.4 L1178.0,1032.6 L1180.0,1029.9 L1182.0,1027.3 L1184.0,1024.7 L1186.0,1022.1 L1188.0,1019.6 L1190.0,1017.1 L1192.0,1014.7 L1194.0,1012.3 L1196.0,1010.0 L1198.0,1007.7 L1200.0,1005.5 L1202.0,1003.4 L1204.0,1001.3 L1206.0,999.3 L1208.0,997.3 L1210.0,995.4 L1212.0,993.6 L1214.0,991.8 L1216.0,990.1 L1218.0,988.5 L1220.0,986.9 L1222.0,985.4 L1224.0,984.0 L1226.0,982.7 L1228.0,981.4 L1230.0,980.3 L1232.0,979.2 L1234.0,978.2 L1236.0,977.2 L1238.0,976.4 L1240.0,975.6 L1242.0,974.9 L1244.0,974.3 L1246.0,973.8 L1248.0,973.4 L1250.0,973.0 L1252.0,972.8 L1254.0,972.6 L1256.0,972.5 L1258.0,972.5 L1260.0,972.6 L1262.0,972.8 L1264.0,973.0 L1266.0,973.4 L1268.0,973.8 L1270.0,974.3 L1272.0,974.9 L1274.0,975.6 L1276.0,976.4 L1278.0,977.2 L1280.0,978.1 L1282.0,979.1 L1284.0,980.2 L1286.0,981.4 L1288.0,982.7 L1290.0,984.0 L1292.0,985.4 L1294.0,986.9 L1296.0,988.4 L1298.0,990.0 L1300.0,991.7 L1302.0,993.5 L1304.0,995.3 L1306.0,997.2 L1308.0,999.2 L1310.0,1001.2 L1312.0,1003.3 L1314.0,1005.5 L1316.0,1007.7 L1318.0,1009.9 L1320.0,1012.3 L1322.0,1014.6 L1324.0,1017.1 L1326.0,1019.5 L1328.0,1022.0 L1330.0,1024.6 L1332.0,1027.2 L1334.0,1029.9 L1336.0,1032.5 L1338.0,1035.3 L1340.0,1038.0 L1342.0,1040.8 L1344.0,1043.6 L1346.0,1046.5 L1348.0,1049.4 L1350.0,1052.3 L1352.0,1055.2 L1354.0,1058.2 L1356.0,1061.1 L1358.0,1064.1 L1360.0,1067.1 L1362.0,1070.1 L1364.0,1073.1 L1366.0,1076.2 L1368.0,1079.2 L1370.0,1082.2 L1372.0,1085.3 L1374.0,1088.3 L1376.0,1091.4 L1378.0,1094.4 L1380.0,1097.4 L1382.0,1100.5 L1384.0,1103.5 L1386.0,1106.5 L1388.0,1109.5 L1390.0,1112.5 L1392.0,1115.5 L1394.0,1118.5 L1396.0,1121.4 L1398.0,1124.4 L1400.0,1127.3 L1402.0,1130.2 L1404.0,1133.0 L1406.0,1135.9 L1408.0,1138.7 L1410.0,1141.5 L1412.0,1144.3 L1414.0,1147.0 L1416.0,1149.7 L1418.0,1152.4 L1420.0,1155.1 L1422.0,1157.7 L1424.0,1160.3 L1426.0,1162.8 L1428.0,1165.4 L1430.0,1167.9 L1432.0,1170.3 L1434.0,1172.7 L1436.0,1175.1 L1438.0,1177.5 L1440.0,1179.8 L1442.0,1182.1 L1444.0,1184.3 L1446.0,1186.5 L1448.0,1188.7 L1450.0,1190.8 L1452.0,1192.9 L1454.0,1195.0 L1456.0,1197.0 L1458.0,1199.0 L1460.0,1200.9 L1462.0,1202.8 L1464.0,1204.7 L1466.0,1206.5 L1468.0,1208.3 L1470.0,1210.0 L1472.0,1211.7 L1474.0,1213.4 L1476.0,1215.0 L1478.0,1216.6 L1480.0,1218.2 L1482.0,1219.7 L1484.0,1221.2 L1486.0,1222.6 L1488.0,1224.0 L1490.0,1225.4 L1492.0,1226.7 L1494.0,1228.1 L1496.0,1229.3 L1498.0,1230.6 L1500.0,1231.8 L1502.0,1232.9 L1504.0,1234.1 L1506.0,1235.2 L1508.0,1236.3 L1510.0,1237.3 L1512.0,1238.3 L1514.0,1239.3 L1516.0,1240.3 L1518.0,1241.2 L1520.0,1242.1 L1522.0,1243.0 L1524.0,1243.8 L1526.0,1244.7 L1528.0,1245.4 L1530.0,1246.2 L1532.0,1247.0 L1534.0,1247.7 L1536.0,1248.4 L1538.0,1249.0 L1540.0,1249.7 L1542.0,1250.3 L1544.0,1250.9 L1546.0,1251.5 L1548.0,1252.1 L1550.0,1252.6 L1552.0,1253.1 L1554.0,1253.7 L1556.0,1254.1 L1558.0,1254.6 L1560.0,1255.1 L1562.0,1255.5 L1564.0,1255.9 L1566.0,1256.3 L1568.0,1256.7 L1570.0,1257.1 L1572.0,1257.4 L1574.0,1257.8 L1576.0,1258.1 L1578.0,1258.4 L1580.0,1258.7 L1582.0,1259.0 L1584.0,1259.3 L1586.0,1259.6 L1588.0,1259.8 L1590.0,1260.1 L1592.0,1260.3 L1594.0,1260.5 L1596.0,1260.8 L1598.0,1261.0 L1600.0,1261.2 L1602.0,1261.4 L1604.0,1261.5 L1606.0,1261.7 L1608.0,1261.9 L1610.0,1262.0 L1612.0,1262.2 L1614.0,1262.3 L1616.0,1262.5 L1618.0,1262.6 L1620.0,1262.7 L1622.0,1262.8 L1624.0,1263.0 L1626.0,1263.1 L1628.0,1263.2 L1630.0,1263.3 L1632.0,1263.4 L1634.0,1263.4 L1636.0,1263.5 L1638.0,1263.6 L1640.0,1263.7"/>
<path stroke="#37AD6B" d="M307.9,1256.8 L309.9,1256.2 L311.9,1255.6 L313.9,1254.9 L315.9,1254.2 L317.9,1253.5 L319.9,1252.7 L321.9,1251.9 L323.9,1251.0 L325.9,1250.1 L327.9,1249.2 L329.9,1248.1 L331.9,1247.1 L333.9,1245.9 L335.9,1244.7 L337.9,1243.5 L339.9,1242.2 L341.9,1240.8 L343.9,1239.3 L345.9,1237.8 L347.9,1236.2 L349.9,1234.5 L351.9,1232.7 L353.9,1230.9 L355.9,1228.9 L357.9,1226.9 L359.9,1224.8 L361.9,1222.6 L363.9,1220.3 L365.9,1217.9 L367.9,1215.4 L369.9,1212.8 L371.9,1210.1 L373.9,1207.3 L375.9,1204.4 L377.9,1201.3 L379.9,1198.2 L381.9,1194.9 L383.9,1191.5 L385.9,1188.0 L387.9,1184.4 L389.9,1180.6 L391.9,1176.7 L393.9,1172.7 L395.9,1168.6 L397.9,1164.3 L399.9,1159.9 L401.9,1155.4 L403.9,1150.7 L405.9,1145.9 L407.9,1141.0 L409.9,1136.0 L411.9,1130.8 L413.9,1125.5 L415.9,1120.0 L417.9,1114.5 L419.9,1108.8 L421.9,1102.9 L423.9,1097.0 L425.9,1090.9 L427.9,1084.7 L429.9,1078.5 L431.9,1072.0 L433.9,1065.5 L435.9,1058.9 L437.9,1052.2 L439.9,1045.4 L441.9,1038.4 L443.9,1031.5 L445.9,1024.4 L447.9,1017.2 L449.9,1010.0 L451.9,1002.7 L453.9,995.4 L455.9,988.0 L457.9,980.5 L459.9,973.1 L461.9,965.6 L463.9,958.0 L465.9,950.5 L467.9,943.0 L469.9,935.4 L471.9,927.9 L473.9,920.4 L475.9,912.9 L477.9,905.5 L479.9,898.1 L481.9,890.8 L483.9,883.5 L485.9,876.3 L487.9,869.2 L489.9,862.2 L491.9,855.3 L493.9,848.6 L495.9,841.9 L497.9,835.4 L499.9,829.0 L501.9,822.8 L503.9,816.7 L505.9,810.8 L507.9,805.1 L509.9,799.6 L511.9,794.3 L513.9,789.2 L515.9,784.3 L517.9,779.6 L519.9,775.1 L521.9,770.9 L523.9,767.0 L525.9,763.2 L527.9,759.8 L529.9,756.6 L531.9,753.6 L533.9,751.0 L535.9,748.6 L537.9,746.4 L539.9,744.6 L541.9,743.1 L543.9,741.8 L545.9,740.8 L547.9,740.2 L549.9,739.8 L551.9,739.7 L553.9,739.9 L555.9,740.4 L557.9,741.2 L559.9,742.3 L561.9,743.7 L563.9,745.3 L565.9,747.3 L567.9,749.5 L569.9,752.0 L571.9,754.8 L573.9,757.9 L575.9,761.2 L577.9,764.8 L579.9,768.6 L581.9,772.7 L583.9,777.0 L585.9,781.5 L587.9,786.3 L589.9,791.3 L591.9,796.5 L593.9,801.9 L595.9,807.5 L597.9,813.3 L599.9,819.2 L601.9,825.4 L603.9,831.7 L605.9,838.1 L607.9,844.7 L609.9,851.4 L611.9,858.2 L613.9,865.1 L615.9,872.2 L617.9,879.3 L619.9,886.5 L621.9,893.8 L623.9,901.2 L625.9,908.6 L627.9,916.0 L629.9,923.5 L631.9,931.0 L633.9,938.6 L635.9,946.1 L637.9,953.6 L639.9,961.2 L641.9,968.7 L643.9,976.2 L645.9,983.6 L647.9,991.1 L649.9,998.4 L651.9,1005.7 L653.9,1013.0 L655.9,1020.2 L657.9,1027.3 L659.9,1034.4 L661.9,1041.3 L663.9,1048.2 L665.9,1055.0 L667.9,1061.7 L669.9,1068.2 L671.9,1074.7 L673.9,1081.1 L675.9,1087.3 L677.9,1093.4 L679.9,1099.4 L681.9,1105.3 L683.9,1111.1 L685.9,1116.7 L687.9,1122.3 L689.9,1127.6 L691.9,1132.9 L693.9,1138.0 L695.9,1143.0 L697.9,1147.9 L699.9,1152.6 L701.9,1157.2 L703.9,1161.6 L705.9,1166.0 L707.9,1170.2 L709.9,1174.2 L711.9,1178.2 L713.9,1182.0 L715.9,1185.7 L717.9,1189.3 L719.9,1192.7 L721.9,1196.0 L723.9,1199.2 L725.9,1202.3 L727.9,1205.3 L729.9,1208.1 L731.9,1210.9 L733.9,1213.5 L735.9,1216.1 L737.9,1218.5 L739.9,1220.8 L741.9,1223.0 L743.9,1225.2 L745.9,1227.2 L747.9,1229.1 L749.9,1231.0 L751.9,1232.7 L753.9,1234.4 L755.9,1236.0 L757.9,1237.5 L759.9,1239.0 L761.9,1240.3 L763.9,1241.6 L765.9,1242.9 L767.9,1244.0 L769.9,1245.1 L771.9,1246.1 L773.9,1247.1 L775.9,1248.0 L777.9,1248.8 L779.9,1249.6 L781.9,1250.3 L783.9,1251.0 L785.9,1251.7 L787.9,1252.3 L789.9,1252.8 L791.9,1253.3 L793.9,1253.7 L795.9,1254.1 L797.9,1254.5 L799.9,1254.8 L801.9,1255.1 L803.9,1255.4 L805.9,1255.6 L807.9,1255.8 L809.9,1255.9 L811.9,1256.0 L813.9,1256.1 L815.9,1256.2 L817.9,1256.2 L819.9,1256.2 L821.9,1256.1 L823.9,1256.1 L825.9,1256.0 L827.9,1255.9 L829.9,1255.7 L831.9,1255.5 L833.9,1255.3 L835.9,1255.1 L837.9,1254.9 L839.9,1254.6 L841.9,1254.3 L843.9,1254.0 L845.9,1253.6 L847.9,1253.2 L849.9,1252.9 L851.9,1252.4 L853.9,1252.0 L855.9,1251.5 L857.9,1251.0 L859.9,1250.5 L861.9,1250.0 L863.9,1249.5 L865.9,1248.9 L867.9,1248.3 L869.9,1247.7 L871.9,1247.0 L873.9,1246.3 L875.9,1245.7 L877.9,1244.9 L879.9,1244.2 L881.9,1243.5 L883.9,1242.7 L885.9,1241.9 L887.9,1241.1 L889.9,1240.2 L891.9,1239.4 L893.9,1238.5 L895.9,1237.6 L897.9,1236.6 L899.9,1235.7 L901.9,1234.7 L903.9,1233.7 L905.9,1232.7 L907.9,1231.7 L909.9,1230.6 L911.9,1229.6 L913.9,1228.5 L915.9,1227.4 L917.9,1226.3 L919.9,1225.1 L921.9,1223.9 L923.9,1222.8 L925.9,1221.6 L927.9,1220.4 L929.9,1219.1 L931.9,1217.9 L933.9,1216.6 L935.9,1215.3 L937.9,1214.0 L939.9,1212.7 L941.9,1211.4 L943.9,1210.1 L945.9,1208.7 L947.9,1207.4 L949.9,1206.0 L951.9,1204.6 L953.9,1203.3 L955.9,1201.9 L957.9,1200.5 L959.9,1199.0 L961.9,1197.6 L963.9,1196.2 L965.9,1194.8 L967.9,1193.3 L969.9,1191.9 L971.9,1190.4 L973.9,1188.9 L976.0,1187.5 L978.0,1186.0 L980.0,1184.5 L982.0,1183.1 L984.0,1181.6 L986.0,1180.1 L988.0,1178.6 L990.0,1177.2 L992.0,1175.7 L994.0,1174.2 L996.0,1172.7 L998.0,1171.2 L1000.0,1169.7 L1002.0,1168.3 L1004.0,1166.8 L1006.0,1165.3 L1008.0,1163.8 L1010.0,1162.3 L1012.0,1160.9 L1014.0,1159.4 L1016.0,1157.9 L1018.0,1156.4 L1020.0,1154.9 L1022.0,1153.5 L1024.0,1152.0 L1026.0,1150.5 L1028.0,1149.0 L1030.0,1147.6 L1032.0,1146.1 L1034.0,1144.6 L1036.0,1143.1 L1038.0,1141.6 L1040.0,1140.2 L1042.0,1138.7 L1044.0,1137.2 L1046.0,1135.7 L1048.0,1134.2 L1050.0,1132.7 L1052.0,1131.2 L1054.0,1129.6 L1056.0,1128.1 L1058.0,1126.6 L1060.0,1125.0 L1062.0,1123.5 L1064.0,1121.9 L1066.0,1120.4 L1068.0,1118.8 L1070.0,1117.2 L1072.0,1115.6 L1074.0,1114.0 L1076.0,1112.4 L1078.0,1110.8 L1080.0,1109.1 L1082.0,1107.4 L1084.0,1105.8 L1086.0,1104.1 L1088.0,1102.4 L1090.0,1100.6 L1092.0,1098.9 L1094.0,1097.1 L1096.0,1095.4 L1098.0,1093.6 L1100.0,1091.8 L1102.0,1090.0 L1104.0,1088.1 L1106.0,1086.3 L1108.0,1084.4 L1110.0,1082.5 L1112.0,1080.6 L1114.0,1078.7 L1116.0,1076.7 L1118.0,1074.8 L1120.0,1072.8 L1122.0,1070.8 L1124.0,1068.8 L1126.0,1066.8 L1128.0,1064.8 L1130.0,1062.7 L1132.0,1060.6 L1134.0,1058.6 L1136.0,1056.5 L1138.0,1054.4 L1140.0,1052.3 L1142.0,1050.2 L1144.0,1048.1 L1146.0,1046.0 L1148.0,1043.8 L1150.0,1041.7 L1152.0,1039.6 L1154.0,1037.5 L1156.0,1035.3 L1158.0,1033.2 L1160.0,1031.1 L1162.0,1029.0 L1164.0,1026.9 L1166.0,1024.8 L1168.0,1022.7 L1170.0,1020.6 L1172.0,1018.5 L1174.0,1016.5 L1176.0,1014.5 L1178.0,1012.5 L1180.0,1010.5 L1182.0,1008.5 L1184.0,1006.6 L1186.0,1004.7 L1188.0,1002.8 L1190.0,1000.9 L1192.0,999.1 L1194.0,997.3 L1196.0,995.6 L1198.0,993.9 L1200.0,992.2 L1202.0,990.6 L1204.0,989.0 L1206.0,987.5 L1208.0,986.0 L1210.0,984.6 L1212.0,983.2 L1214.0,981.9 L1216.0,980.6 L1218.0,979.4 L1220.0,978.2 L1222.0,977.1 L1224.0,976.1 L1226.0,975.1 L1228.0,974.2 L1230.0,973.4 L1232.0,972.6 L1234.0,971.9 L1236.0,971.3 L1238.0,970.7 L1240.0,970.2 L1242.0,969.8 L1244.0,969.5 L1246.0,969.2 L1248.0,969.0 L1250.0,968.9 L1252.0,968.8 L1254.0,968.8 L1256.0,969.0 L1258.0,969.1 L1260.0,969.4 L1262.0,969.7 L1264.0,970.2 L1266.0,970.7 L1268.0,971.2 L1270.0,971.9 L1272.0,972.6 L1274.0,973.4 L1276.0,974.3 L1278.0,975.3 L1280.0,976.3 L1282.0,977.4 L1284.0,978.6 L1286.0,979.9 L1288.0,981.2 L1290.0,982.7 L1292.0,984.1 L1294.0,985.7 L1296.0,987.3 L1298.0,989.0 L1300.0,990.8 L1302.0,992.6 L1304.0,994.5 L1306.0,996.4 L1308.0,998.5 L1310.0,1000.5 L1312.0,1002.7 L1314.0,1004.9 L1316.0,1007.1 L1318.0,1009.4 L1320.0,1011.8 L1322.0,1014.2 L1324.0,1016.6 L1326.0,1019.1 L1328.0,1021.7 L1330.0,1024.3 L1332.0,1026.9 L1334.0,1029.6 L1336.0,1032.3 L1338.0,1035.0 L1340.0,1037.8 L1342.0,1040.6 L1344.0,1043.4 L1346.0,1046.3 L1348.0,1049.2 L1350.0,1052.1 L1352.0,1055.0 L1354.0,1058.0 L1356.0,1061.0 L1358.0,1064.0 L1360.0,1067.0 L1362.0,1070.0 L1364.0,1073.0 L1366.0,1076.1 L1368.0,1079.1 L1370.0,1082.2 L1372.0,1085.2 L1374.0,1088.3 L1376.0,1091.3 L1378.0,1094.4 L1380.0,1097.4 L1382.0,1100.4 L1384.0,1103.5 L1386.0,1106.5 L1388.0,1109.5 L1390.0,1112.5 L1392.0,1115.5 L1394.0,1118.4 L1396.0,1121.4 L1398.0,1124.3 L1400.0,1127.2 L1402.0,1130.1 L1404.0,1133.0 L1406.0,1135.9 L1408.0,1138.7 L1410.0,1141.5 L1412.0,1144.3 L1414.0,1147.0 L1416.0,1149.7 L1418.0,1152.4 L1420.0,1155.1 L1422.0,1157.7 L1424.0,1160.3 L1426.0,1162.8 L1428.0,1165.4 L1430.0,1167.9 L1432.0,1170.3 L1434.0,1172.7 L1436.0,1175.1 L1438.0,1177.5 L1440.0,1179.8 L1442.0,1182.1 L1444.0,1184.3 L1446.0,1186.5 L1448.0,1188.7 L1450.0,1190.8 L1452.0,1192.9 L1454.0,1195.0 L1456.0,1197.0 L1458.0,1199.0 L1460.0,1200.9 L1462.0,1202.8 L1464.0,1204.7 L1466.0,1206.5 L1468.0,1208.3 L1470.0,1210.0 L1472.0,1211.7 L1474.0,1213.4 L1476.0,1215.0 L1478.0,1216.6 L1480.0,1218.2 L1482.0,1219.7 L1484.0,1221.2 L1486.0,1222.6 L1488.0,1224.0 L1490.0,1225.4 L1492.0,1226.7 L1494.0,1228.1 L1496.0,1229.3 L1498.0,1230.6 L1500.0,1231.8 L1502.0,1232.9 L1504.0,1234.1 L1506.0,1235.2 L1508.0,1236.3 L1510.0,1237.3 L1512.0,1238.3 L1514.0,1239.3 L1516.0,1240.3 L1518.0,1241.2 L1520.0,1242.1 L1522.0,1243.0 L1524.0,1243.8 L1526.0,1244.7 L1528.0,1245.4 L1530.0,1246.2 L1532.0,1247.0 L1534.0,1247.7 L1536.0,1248.4 L1538.0,1249.0 L1540.0,1249.7 L1542.0,1250.3 L1544.0,1250.9 L1546.0,1251.5 L1548.0,1252.1 L1550.0,1252.6 L1552.0,1253.1 L1554.0,1253.7 L1556.0,1254.1 L1558.0,1254.6 L1560.0,1255.1 L1562.0,1255.5 L1564.0,1255.9 L1566.0,1256.3 L1568.0,1256.7 L1570.0,1257.1 L1572.0,1257.4 L1574.0,1257.8 L1576.0,1258.1 L1578.0,1258.4 L1580.0,1258.7 L1582.0,1259.0 L1584.0,1259.3 L1586.0,1259.6 L1588.0,1259.8 L1590.0,1260.1 L1592.0,1260.3 L1594.0,1260.5 L1596.0,1260.8 L1598.0,1261.0 L1600.0,1261.2 L1602.0,1261.4 L1604.0,1261.5 L1606.0,1261.7 L1608.0,1261.9 L1610.0,1262.0 L1612.0,1262.2 L1614.0,1262.3 L1616.0,1262.5 L1618.0,1262.6 L1620.0,1262.7 L1622.0,1262.8 L1624.0,1263.0 L1626.0,1263.1 L1628.0,1263.2 L1630.0,1263.3 L1632.0,1263.4 L1634.0,1263.4 L1636.0,1263.5 L1638.0,1263.6 L1640.0,1263.7"/>
</g>
<g fill="#000" shape-rendering="crispEdges">
<rect x="112" y="25" width="1640" height="7"/>
<rect x="112" y="1339" width="1640" height="7"/>
<rect x="112" y="25" width="7" height="1331"/>
<rect x="1744" y="25" width="8" height="1344"/>
<rect x="208" y="1339" width="7" height="30"/>
<rect x="304" y="1339" width="7" height="17"/>
<rect x="400" y="1339" width="7" height="30"/>
<rect x="496" y="1339" width="7" height="17"/>
<rect x="592" y="1339" width="7" height="30"/>
<rect x="688" y="1339" width="7" height="17"/>
<rect x="784" y="1339" width="7" height="30"/>
<rect x="880" y="1339" width="7" height="17"/>
<rect x="976" y="1339" width="7" height="30"/>
<rect x="1072" y="1339" width="7" height="17"/>
<rect x="1168" y="1339" width="7" height="30"/>
<rect x="1264" y="1339" width="7" height="17"/>
<rect x="1360" y="1339" width="7" height="30"/>
<rect x="1456" y="1339" width="7" height="17"/>
<rect x="1552" y="1339" width="7" height="30"/>
<rect x="1648" y="1339" width="7" height="17"/>
</g>
<line x1="369.3" y1="199.4" x2="431.3" y2="242.3" stroke="#000" stroke-width="2.2"/>
<polygon points="457.8,260.6 425.7,248.7 435.3,234.7" fill="#000" stroke="#000" stroke-width="1.4" stroke-linejoin="round"/>
<line x1="1134.4" y1="226.5" x2="1172.7" y2="268.6" stroke="#000" stroke-width="2.2"/>
<polygon points="1194.4,292.4 1165.8,273.6 1178.3,262.1" fill="#000" stroke="#000" stroke-width="1.4" stroke-linejoin="round"/>
<line x1="941.3" y1="398.3" x2="991.2" y2="476.4" stroke="#000" stroke-width="2.2"/>
<polygon points="1008.6,503.5 983.5,480.1 997.9,471.0" fill="#000" stroke="#000" stroke-width="1.4" stroke-linejoin="round"/>
<line x1="380.2" y1="840.1" x2="444.2" y2="882.6" stroke="#000" stroke-width="2.2"/>
<polygon points="471.0,900.4 438.6,889.1 448.0,875.0" fill="#000" stroke="#000" stroke-width="1.4" stroke-linejoin="round"/>
<line x1="1124.6" y1="924.5" x2="1175.1" y2="984.7" stroke="#000" stroke-width="2.2"/>
<polygon points="1195.8,1009.4 1168.0,989.4 1181.0,978.5" fill="#000" stroke="#000" stroke-width="1.4" stroke-linejoin="round"/>
<line x1="913.6" y1="1064.0" x2="977.6" y2="1158.9" stroke="#000" stroke-width="2.2"/>
<polygon points="995.6,1185.6 970.0,1162.8 984.1,1153.3" fill="#000" stroke="#000" stroke-width="1.4" stroke-linejoin="round"/>
<text x="264.03" y="176.5" style="font-size:68.6px;letter-spacing:0.3px">Peak <tspan x="415.15" style="letter-spacing:0px">I</tspan></text>
<text x="1016.93" y="208.7" style="font-size:68.6px;letter-spacing:0.3px">Peak <tspan x="1167.45" style="letter-spacing:-1.5px">III</tspan></text>
<text x="811.03" y="390.1" style="font-size:68.6px;letter-spacing:0.3px">Peak <tspan x="963.25" style="letter-spacing:-1.84px">II</tspan></text>
<text x="1253.63" y="707.1" style="font-size:68.6px;font-weight:bold;letter-spacing:0.049px">Cr-In/H-SSZ-39</text>
<text x="282.93" y="829.9" style="font-size:68.6px;letter-spacing:0.3px">Peak <tspan x="434.1" style="letter-spacing:0px">I</tspan></text>
<text x="1013.13" y="897.8" style="font-size:68.6px;letter-spacing:0.3px">Peak <tspan x="1163.05" style="letter-spacing:-1.3px">III</tspan></text>
<text x="1331.87" y="986.2" style="font-size:68.6px;font-weight:bold;letter-spacing:-0.265px">In/H-SSZ-39</text>
<text x="805.93" y="1045.8" style="font-size:68.6px;letter-spacing:0.3px">Peak <tspan x="956.05" style="letter-spacing:-1.84px">II</tspan></text>
<text x="189.57" y="1454.3" style="font-size:88.4px;font-weight:bold;letter-spacing:0.0px">0</text>
<text x="337.61" y="1454.3" style="font-size:88.4px;font-weight:bold;letter-spacing:-0.2px">100</text>
<text x="528.48" y="1454.3" style="font-size:88.4px;font-weight:bold;letter-spacing:0.463px">200</text>
<text x="721.02" y="1454.3" style="font-size:88.4px;font-weight:bold;letter-spacing:0.298px">300</text>
<text x="915.48" y="1454.3" style="font-size:88.4px;font-weight:bold;letter-spacing:-0.761px">400</text>
<text x="1106.61" y="1454.3" style="font-size:88.4px;font-weight:bold;letter-spacing:0.104px">500</text>
<text x="1299.35" y="1454.3" style="font-size:88.4px;font-weight:bold;letter-spacing:-0.331px">600</text>
<text x="1489.24" y="1454.3" style="font-size:88.4px;font-weight:bold;letter-spacing:0.32px">700</text>
<text x="1683.53" y="1454.3" style="font-size:88.4px;font-weight:bold;letter-spacing:-0.661px">800</text>
<text y="1553.9" style="font-size:88.4px;font-weight:bold"><tspan x="593.6" style="letter-spacing:0.04px">Temperature </tspan><tspan x="1106.3">(</tspan><tspan x="1132.6" dy="9" style="font-size:102px">°</tspan><tspan x="1166.6" dy="-9">C</tspan><tspan x="1229.3">)</tspan></text>
<text transform="translate(83.0,0) rotate(-90)" x="-949.38" y="0" style="font-size:88.4px;font-weight:bold;letter-spacing:-0.41px">Intensity (a.u.)</text>
</svg></body></html>
